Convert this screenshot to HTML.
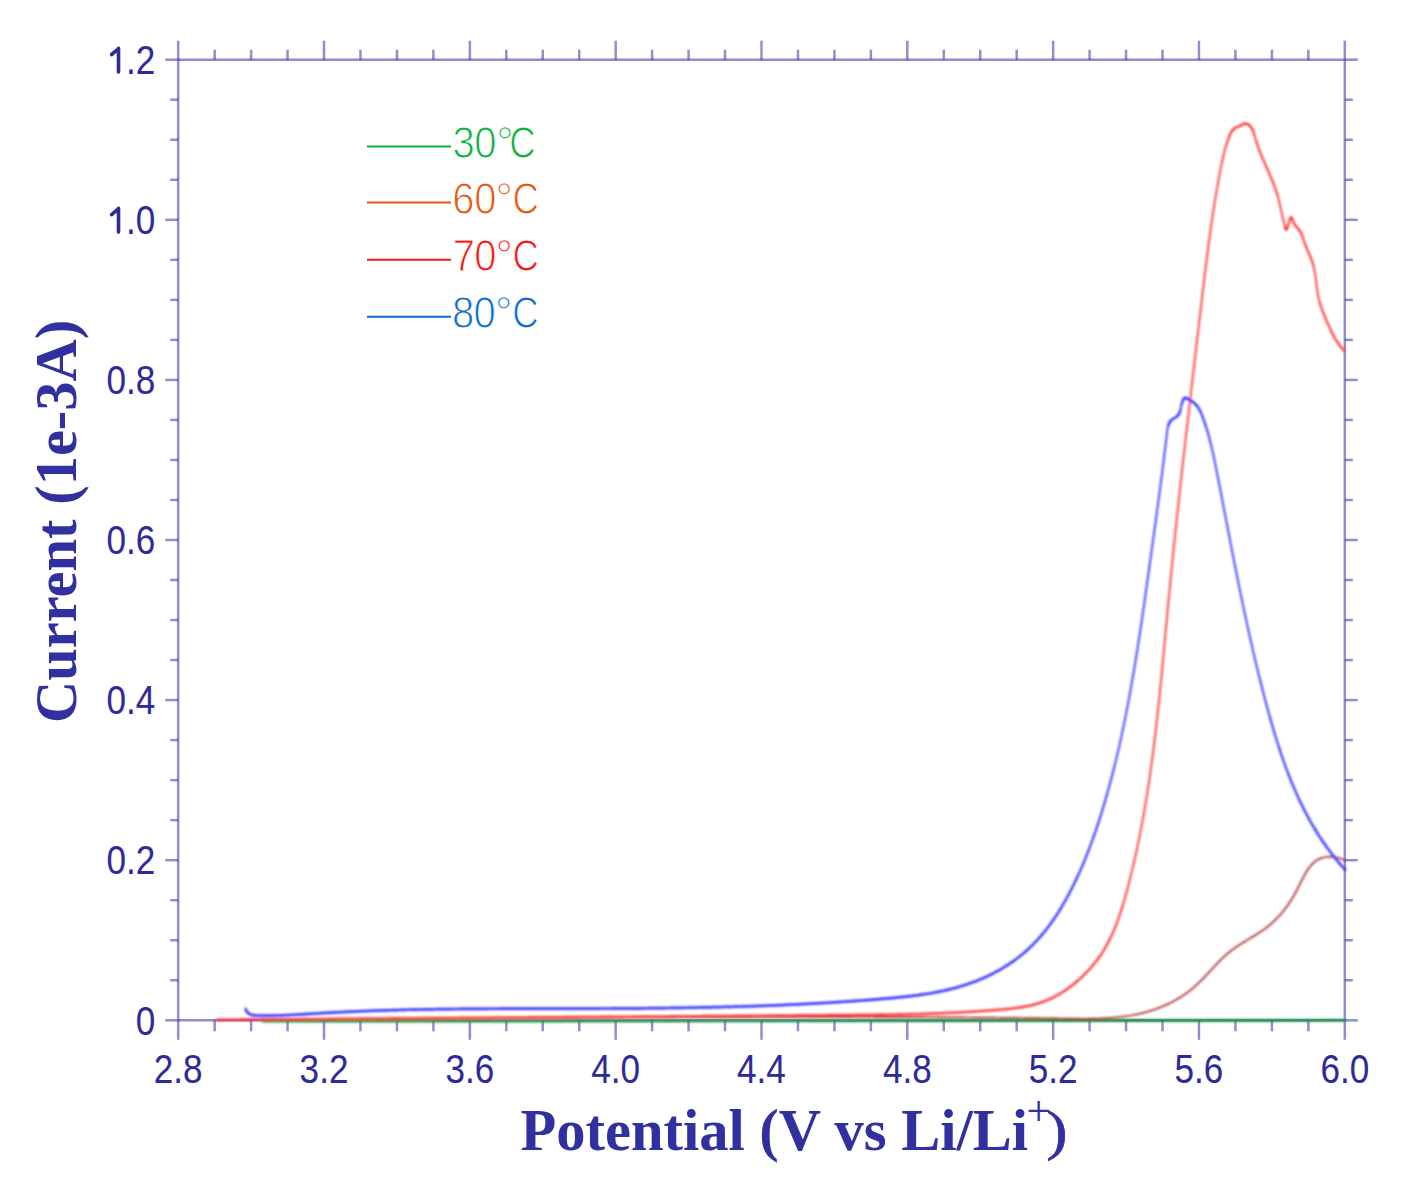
<!DOCTYPE html>
<html><head><meta charset="utf-8"><title>LSV</title>
<style>
html,body{margin:0;padding:0;background:#fff;}
svg{display:block}
.tl{font-family:"Liberation Sans",sans-serif;font-size:40px;fill:#2e2a9a;stroke:#2e2a9a;stroke-width:0.1px}
.ti{font-family:"Liberation Serif",serif;font-weight:bold;font-size:58.5px;fill:#3030a0}
.lg{font-family:"Liberation Sans",sans-serif;font-size:40px;stroke:#fff;stroke-width:1.2px}
</style></head>
<body>
<svg width="1405" height="1191" viewBox="0 0 1405 1191">
<defs><filter id="bla" x="-5%" y="-5%" width="110%" height="110%"><feGaussianBlur stdDeviation="0.45"/></filter><filter id="bl" x="-5%" y="-5%" width="110%" height="110%"><feGaussianBlur stdDeviation="0.85"/></filter></defs>
<rect width="1405" height="1191" fill="#fff"/>

<g filter="url(#bla)" stroke="#28249a" stroke-opacity="0.51" stroke-width="2.5" fill="none">
<path d="M178.20,1020.30L1344.80,1020.30"/>
<path d="M178.20,59.70L1344.80,59.70"/>
<path d="M178.20,1020.30L178.20,59.70"/>
<path d="M1344.80,1020.30L1344.80,59.70"/>
<path d="M178.20,1020.30L178.20,1039.80"/>
<path d="M178.20,59.70L178.20,40.70"/>
<path d="M214.66,1020.30L214.66,1031.30"/>
<path d="M214.66,59.70L214.66,49.70"/>
<path d="M251.11,1020.30L251.11,1031.30"/>
<path d="M251.11,59.70L251.11,49.70"/>
<path d="M287.57,1020.30L287.57,1031.30"/>
<path d="M287.57,59.70L287.57,49.70"/>
<path d="M324.02,1020.30L324.02,1039.80"/>
<path d="M324.02,59.70L324.02,40.70"/>
<path d="M360.48,1020.30L360.48,1031.30"/>
<path d="M360.48,59.70L360.48,49.70"/>
<path d="M396.94,1020.30L396.94,1031.30"/>
<path d="M396.94,59.70L396.94,49.70"/>
<path d="M433.39,1020.30L433.39,1031.30"/>
<path d="M433.39,59.70L433.39,49.70"/>
<path d="M469.85,1020.30L469.85,1039.80"/>
<path d="M469.85,59.70L469.85,40.70"/>
<path d="M506.31,1020.30L506.31,1031.30"/>
<path d="M506.31,59.70L506.31,49.70"/>
<path d="M542.76,1020.30L542.76,1031.30"/>
<path d="M542.76,59.70L542.76,49.70"/>
<path d="M579.22,1020.30L579.22,1031.30"/>
<path d="M579.22,59.70L579.22,49.70"/>
<path d="M615.67,1020.30L615.67,1039.80"/>
<path d="M615.67,59.70L615.67,40.70"/>
<path d="M652.13,1020.30L652.13,1031.30"/>
<path d="M652.13,59.70L652.13,49.70"/>
<path d="M688.59,1020.30L688.59,1031.30"/>
<path d="M688.59,59.70L688.59,49.70"/>
<path d="M725.04,1020.30L725.04,1031.30"/>
<path d="M725.04,59.70L725.04,49.70"/>
<path d="M761.50,1020.30L761.50,1039.80"/>
<path d="M761.50,59.70L761.50,40.70"/>
<path d="M797.96,1020.30L797.96,1031.30"/>
<path d="M797.96,59.70L797.96,49.70"/>
<path d="M834.41,1020.30L834.41,1031.30"/>
<path d="M834.41,59.70L834.41,49.70"/>
<path d="M870.87,1020.30L870.87,1031.30"/>
<path d="M870.87,59.70L870.87,49.70"/>
<path d="M907.32,1020.30L907.32,1039.80"/>
<path d="M907.32,59.70L907.32,40.70"/>
<path d="M943.78,1020.30L943.78,1031.30"/>
<path d="M943.78,59.70L943.78,49.70"/>
<path d="M980.24,1020.30L980.24,1031.30"/>
<path d="M980.24,59.70L980.24,49.70"/>
<path d="M1016.69,1020.30L1016.69,1031.30"/>
<path d="M1016.69,59.70L1016.69,49.70"/>
<path d="M1053.15,1020.30L1053.15,1039.80"/>
<path d="M1053.15,59.70L1053.15,40.70"/>
<path d="M1089.61,1020.30L1089.61,1031.30"/>
<path d="M1089.61,59.70L1089.61,49.70"/>
<path d="M1126.06,1020.30L1126.06,1031.30"/>
<path d="M1126.06,59.70L1126.06,49.70"/>
<path d="M1162.52,1020.30L1162.52,1031.30"/>
<path d="M1162.52,59.70L1162.52,49.70"/>
<path d="M1198.97,1020.30L1198.97,1039.80"/>
<path d="M1198.97,59.70L1198.97,40.70"/>
<path d="M1235.43,1020.30L1235.43,1031.30"/>
<path d="M1235.43,59.70L1235.43,49.70"/>
<path d="M1271.89,1020.30L1271.89,1031.30"/>
<path d="M1271.89,59.70L1271.89,49.70"/>
<path d="M1308.34,1020.30L1308.34,1031.30"/>
<path d="M1308.34,59.70L1308.34,49.70"/>
<path d="M1344.80,1020.30L1344.80,1039.80"/>
<path d="M1344.80,59.70L1344.80,40.70"/>
<path d="M165.20,1020.30L178.20,1020.30"/>
<path d="M1344.80,1020.30L1357.80,1020.30"/>
<path d="M170.20,980.27L178.20,980.27"/>
<path d="M1344.80,980.27L1352.80,980.27"/>
<path d="M170.20,940.25L178.20,940.25"/>
<path d="M1344.80,940.25L1352.80,940.25"/>
<path d="M170.20,900.22L178.20,900.22"/>
<path d="M1344.80,900.22L1352.80,900.22"/>
<path d="M165.20,860.20L178.20,860.20"/>
<path d="M1344.80,860.20L1357.80,860.20"/>
<path d="M170.20,820.17L178.20,820.17"/>
<path d="M1344.80,820.17L1352.80,820.17"/>
<path d="M170.20,780.15L178.20,780.15"/>
<path d="M1344.80,780.15L1352.80,780.15"/>
<path d="M170.20,740.12L178.20,740.12"/>
<path d="M1344.80,740.12L1352.80,740.12"/>
<path d="M165.20,700.10L178.20,700.10"/>
<path d="M1344.80,700.10L1357.80,700.10"/>
<path d="M170.20,660.07L178.20,660.07"/>
<path d="M1344.80,660.07L1352.80,660.07"/>
<path d="M170.20,620.05L178.20,620.05"/>
<path d="M1344.80,620.05L1352.80,620.05"/>
<path d="M170.20,580.02L178.20,580.02"/>
<path d="M1344.80,580.02L1352.80,580.02"/>
<path d="M165.20,540.00L178.20,540.00"/>
<path d="M1344.80,540.00L1357.80,540.00"/>
<path d="M170.20,499.97L178.20,499.97"/>
<path d="M1344.80,499.97L1352.80,499.97"/>
<path d="M170.20,459.95L178.20,459.95"/>
<path d="M1344.80,459.95L1352.80,459.95"/>
<path d="M170.20,419.92L178.20,419.92"/>
<path d="M1344.80,419.92L1352.80,419.92"/>
<path d="M165.20,379.90L178.20,379.90"/>
<path d="M1344.80,379.90L1357.80,379.90"/>
<path d="M170.20,339.87L178.20,339.87"/>
<path d="M1344.80,339.87L1352.80,339.87"/>
<path d="M170.20,299.85L178.20,299.85"/>
<path d="M1344.80,299.85L1352.80,299.85"/>
<path d="M170.20,259.82L178.20,259.82"/>
<path d="M1344.80,259.82L1352.80,259.82"/>
<path d="M165.20,219.80L178.20,219.80"/>
<path d="M1344.80,219.80L1357.80,219.80"/>
<path d="M170.20,179.77L178.20,179.77"/>
<path d="M1344.80,179.77L1352.80,179.77"/>
<path d="M170.20,139.75L178.20,139.75"/>
<path d="M1344.80,139.75L1352.80,139.75"/>
<path d="M170.20,99.72L178.20,99.72"/>
<path d="M1344.80,99.72L1352.80,99.72"/>
<path d="M165.20,59.70L178.20,59.70"/>
<path d="M1344.80,59.70L1357.80,59.70"/>
</g>
<text class="tl" transform="translate(155.2,1034.50) scale(0.878,1)" text-anchor="end">0</text>
<text class="tl" transform="translate(155.2,874.40) scale(0.878,1)" text-anchor="end">0.2</text>
<text class="tl" transform="translate(155.2,714.30) scale(0.878,1)" text-anchor="end">0.4</text>
<text class="tl" transform="translate(155.2,554.20) scale(0.878,1)" text-anchor="end">0.6</text>
<text class="tl" transform="translate(155.2,394.10) scale(0.878,1)" text-anchor="end">0.8</text>
<text class="tl" transform="translate(155.2,234.00) scale(0.878,1)" text-anchor="end">.0</text>
<text class="tl" transform="translate(155.2,73.90) scale(0.878,1)" text-anchor="end">.2</text>
<path d="M118.5,208.30L118.5,232.10M118.4,208.90L111.6,214.60 M118.5,48.20L118.5,72.00M118.4,48.80L111.6,54.50" stroke="#2e2a9a" stroke-width="3.6" stroke-linecap="round" fill="none"/>
<text class="tl" transform="translate(178.20,1083.2) scale(0.878,1)" text-anchor="middle">2.8</text>
<text class="tl" transform="translate(324.02,1083.2) scale(0.878,1)" text-anchor="middle">3.2</text>
<text class="tl" transform="translate(469.85,1083.2) scale(0.878,1)" text-anchor="middle">3.6</text>
<text class="tl" transform="translate(615.67,1083.2) scale(0.878,1)" text-anchor="middle">4.0</text>
<text class="tl" transform="translate(761.50,1083.2) scale(0.878,1)" text-anchor="middle">4.4</text>
<text class="tl" transform="translate(907.32,1083.2) scale(0.878,1)" text-anchor="middle">4.8</text>
<text class="tl" transform="translate(1053.15,1083.2) scale(0.878,1)" text-anchor="middle">5.2</text>
<text class="tl" transform="translate(1198.97,1083.2) scale(0.878,1)" text-anchor="middle">5.6</text>
<text class="tl" transform="translate(1344.80,1083.2) scale(0.878,1)" text-anchor="middle">6.0</text>
<text class="ti" transform="translate(76,521.4) rotate(-90)" text-anchor="middle">Current (1e-3A)</text>
<text class="ti" x="520.5" y="1149.9">Potential (V vs Li/Li</text>
<text class="ti" x="1026.4" y="1125.2" style="font-size:43px;font-weight:normal;stroke:#3030a0;stroke-width:0.15px">+</text>
<text class="ti" transform="translate(1046.6,1148.9) scale(1.12,1)" style="font-size:56px;font-weight:normal;stroke:#3030a0;stroke-width:0.8px">)</text>
<g filter="url(#bl)">
<path d="M263.00,1021.30L700.00,1021.00M700.00,1021.00L1344.60,1020.30" stroke="#1f9645" stroke-width="2.6" fill="none" stroke-linejoin="round" stroke-linecap="round"/>
<path d="M239.94,1019.23L241.45,1019.23M241.45,1019.23L242.95,1019.23M242.95,1019.23L244.45,1019.23M244.45,1019.23L245.96,1019.23M245.96,1019.23L247.46,1019.23M247.46,1019.23L248.96,1019.22M248.96,1019.22L250.47,1019.22M250.47,1019.22L251.97,1019.22M251.97,1019.22L253.48,1019.22M253.48,1019.22L254.98,1019.22M254.98,1019.22L256.48,1019.22M256.48,1019.22L257.99,1019.22M257.99,1019.22L259.49,1019.22M259.49,1019.22L260.99,1019.22M260.99,1019.22L262.50,1019.21M262.50,1019.21L264.00,1019.21M264.00,1019.21L265.50,1019.21M265.50,1019.21L267.01,1019.21M267.01,1019.21L268.51,1019.21M268.51,1019.21L270.01,1019.21M270.01,1019.21L271.51,1019.20M271.51,1019.20L273.02,1019.20M273.02,1019.20L274.52,1019.20M274.52,1019.20L276.02,1019.20M276.02,1019.20L277.52,1019.19M277.52,1019.19L279.03,1019.19M279.03,1019.19L280.53,1019.19M280.53,1019.19L282.03,1019.19M282.03,1019.19L283.54,1019.18M283.54,1019.18L285.04,1019.18M285.04,1019.18L286.54,1019.18M286.54,1019.18L288.04,1019.18M288.04,1019.18L289.54,1019.17M289.54,1019.17L291.05,1019.17M291.05,1019.17L292.55,1019.17M292.55,1019.17L294.05,1019.16M294.05,1019.16L295.55,1019.16M295.55,1019.16L297.06,1019.16M297.06,1019.16L298.56,1019.15M298.56,1019.15L300.06,1019.15M300.06,1019.15L301.56,1019.15M301.56,1019.15L303.06,1019.14M303.06,1019.14L304.56,1019.14M304.56,1019.14L306.07,1019.14M306.07,1019.14L307.57,1019.13M307.57,1019.13L309.07,1019.13M309.07,1019.13L310.57,1019.12M310.57,1019.12L312.07,1019.12M312.07,1019.12L313.57,1019.12M313.57,1019.12L315.08,1019.11M315.08,1019.11L316.58,1019.11M316.58,1019.11L318.08,1019.10M318.08,1019.10L319.58,1019.10M319.58,1019.10L321.08,1019.09M321.08,1019.09L322.58,1019.09M322.58,1019.09L324.08,1019.09M324.08,1019.09L325.59,1019.08M325.59,1019.08L327.09,1019.08M327.09,1019.08L328.59,1019.07M328.59,1019.07L330.09,1019.07M330.09,1019.07L331.59,1019.06M331.59,1019.06L333.09,1019.06M333.09,1019.06L334.59,1019.05M334.59,1019.05L336.09,1019.05M336.09,1019.05L337.59,1019.04M337.59,1019.04L339.09,1019.04M339.09,1019.04L340.59,1019.03M340.59,1019.03L342.09,1019.03M342.09,1019.03L343.60,1019.02M343.60,1019.02L345.10,1019.02M345.10,1019.02L346.60,1019.01M346.60,1019.01L348.10,1019.00M348.10,1019.00L349.60,1019.00M349.60,1019.00L351.10,1018.99M351.10,1018.99L352.60,1018.99M352.60,1018.99L354.10,1018.98M354.10,1018.98L355.60,1018.98M355.60,1018.98L357.10,1018.97M357.10,1018.97L358.60,1018.96M358.60,1018.96L360.10,1018.96M360.10,1018.96L361.60,1018.95M361.60,1018.95L363.10,1018.95M363.10,1018.95L364.60,1018.94M364.60,1018.94L366.10,1018.93M366.10,1018.93L367.60,1018.93M367.60,1018.93L369.10,1018.92M369.10,1018.92L370.60,1018.92M370.60,1018.92L372.10,1018.91M372.10,1018.91L373.60,1018.90M373.60,1018.90L375.10,1018.90M375.10,1018.90L376.60,1018.89M376.60,1018.89L378.10,1018.88M378.10,1018.88L379.60,1018.88M379.60,1018.88L381.10,1018.87M381.10,1018.87L382.60,1018.86M382.60,1018.86L384.10,1018.86M384.10,1018.86L385.60,1018.85M385.60,1018.85L387.10,1018.84M387.10,1018.84L388.60,1018.84M388.60,1018.84L390.10,1018.83M390.10,1018.83L391.60,1018.82M391.60,1018.82L393.10,1018.82M393.10,1018.82L394.59,1018.81M394.59,1018.81L396.09,1018.80M396.09,1018.80L397.59,1018.79M397.59,1018.79L399.09,1018.79M399.09,1018.79L400.59,1018.78M400.59,1018.78L402.09,1018.77M402.09,1018.77L403.59,1018.77M403.59,1018.77L405.09,1018.76M405.09,1018.76L406.59,1018.75M406.59,1018.75L408.09,1018.74M408.09,1018.74L409.59,1018.74M409.59,1018.74L411.09,1018.73M411.09,1018.73L412.58,1018.72M412.58,1018.72L414.08,1018.71M414.08,1018.71L415.58,1018.71M415.58,1018.71L417.08,1018.70M417.08,1018.70L418.58,1018.69M418.58,1018.69L420.08,1018.68M420.08,1018.68L421.58,1018.68M421.58,1018.68L423.08,1018.67M423.08,1018.67L424.58,1018.66M424.58,1018.66L426.07,1018.65M426.07,1018.65L427.57,1018.64M427.57,1018.64L429.07,1018.64M429.07,1018.64L430.57,1018.63M430.57,1018.63L432.07,1018.62M432.07,1018.62L433.57,1018.61M433.57,1018.61L435.07,1018.61M435.07,1018.61L436.56,1018.60M436.56,1018.60L438.06,1018.59M438.06,1018.59L439.56,1018.58M439.56,1018.58L441.06,1018.57M441.06,1018.57L442.56,1018.57M442.56,1018.57L444.06,1018.56M444.06,1018.56L445.56,1018.55M445.56,1018.55L447.05,1018.54M447.05,1018.54L448.55,1018.53M448.55,1018.53L450.05,1018.52M450.05,1018.52L451.55,1018.52M451.55,1018.52L453.05,1018.51M453.05,1018.51L454.55,1018.50M454.55,1018.50L456.04,1018.49M456.04,1018.49L457.54,1018.48M457.54,1018.48L459.04,1018.47M459.04,1018.47L460.54,1018.47M460.54,1018.47L462.04,1018.46M462.04,1018.46L463.53,1018.45M463.53,1018.45L465.03,1018.44M465.03,1018.44L466.53,1018.43M466.53,1018.43L468.03,1018.42M468.03,1018.42L469.53,1018.42M469.53,1018.42L471.02,1018.41M471.02,1018.41L472.52,1018.40M472.52,1018.40L474.02,1018.39M474.02,1018.39L475.52,1018.38M475.52,1018.38L477.02,1018.37M477.02,1018.37L478.51,1018.36M478.51,1018.36L480.01,1018.36M480.01,1018.36L481.51,1018.35M481.51,1018.35L483.01,1018.34M483.01,1018.34L484.51,1018.33M484.51,1018.33L486.00,1018.32M486.00,1018.32L487.50,1018.31M487.50,1018.31L489.00,1018.30M489.00,1018.30L490.50,1018.30M490.50,1018.30L491.99,1018.29M491.99,1018.29L493.49,1018.28M493.49,1018.28L494.99,1018.27M494.99,1018.27L496.49,1018.26M496.49,1018.26L497.99,1018.25M497.99,1018.25L499.48,1018.24M499.48,1018.24L500.98,1018.23M500.98,1018.23L502.48,1018.23M502.48,1018.23L503.98,1018.22M503.98,1018.22L505.47,1018.21M505.47,1018.21L506.97,1018.20M506.97,1018.20L508.47,1018.19M508.47,1018.19L509.97,1018.18M509.97,1018.18L511.46,1018.17M511.46,1018.17L512.96,1018.16M512.96,1018.16L514.46,1018.15M514.46,1018.15L515.96,1018.15M515.96,1018.15L517.45,1018.14M517.45,1018.14L518.95,1018.13M518.95,1018.13L520.45,1018.12M520.45,1018.12L521.95,1018.11M521.95,1018.11L523.44,1018.10M523.44,1018.10L524.94,1018.09M524.94,1018.09L526.44,1018.08M526.44,1018.08L527.94,1018.08M527.94,1018.08L529.43,1018.07M529.43,1018.07L530.93,1018.06M530.93,1018.06L532.43,1018.05M532.43,1018.05L533.92,1018.04M533.92,1018.04L535.42,1018.03M535.42,1018.03L536.92,1018.02M536.92,1018.02L538.42,1018.01M538.42,1018.01L539.91,1018.00M539.91,1018.00L541.41,1018.00M541.41,1018.00L542.91,1017.99M542.91,1017.99L544.41,1017.98M544.41,1017.98L545.90,1017.97M545.90,1017.97L547.40,1017.96M547.40,1017.96L548.90,1017.95M548.90,1017.95L550.39,1017.94M550.39,1017.94L551.89,1017.93M551.89,1017.93L553.39,1017.93M553.39,1017.93L554.89,1017.92M554.89,1017.92L556.38,1017.91M556.38,1017.91L557.88,1017.90M557.88,1017.90L559.38,1017.89M559.38,1017.89L560.87,1017.88M560.87,1017.88L562.37,1017.87M562.37,1017.87L563.87,1017.86M563.87,1017.86L565.37,1017.86M565.37,1017.86L566.86,1017.85M566.86,1017.85L568.36,1017.84M568.36,1017.84L569.86,1017.83M569.86,1017.83L571.35,1017.82M571.35,1017.82L572.85,1017.81M572.85,1017.81L574.35,1017.80M574.35,1017.80L575.85,1017.80M575.85,1017.80L577.34,1017.79M577.34,1017.79L578.84,1017.78M578.84,1017.78L580.34,1017.77M580.34,1017.77L581.83,1017.76M581.83,1017.76L583.33,1017.75M583.33,1017.75L584.83,1017.74M584.83,1017.74L586.32,1017.74M586.32,1017.74L587.82,1017.73M587.82,1017.73L589.32,1017.72M589.32,1017.72L590.82,1017.71M590.82,1017.71L592.31,1017.70M592.31,1017.70L593.81,1017.69M593.81,1017.69L595.31,1017.69M595.31,1017.69L596.80,1017.68M596.80,1017.68L598.30,1017.67M598.30,1017.67L599.80,1017.66M599.80,1017.66L601.30,1017.65M601.30,1017.65L602.79,1017.64M602.79,1017.64L604.29,1017.64M604.29,1017.64L605.79,1017.63M605.79,1017.63L607.28,1017.62M607.28,1017.62L608.78,1017.61M608.78,1017.61L610.28,1017.60M610.28,1017.60L611.77,1017.60M611.77,1017.60L613.27,1017.59M613.27,1017.59L614.77,1017.58M614.77,1017.58L616.27,1017.57M616.27,1017.57L617.76,1017.56M617.76,1017.56L619.26,1017.56M619.26,1017.56L620.76,1017.55M620.76,1017.55L622.25,1017.54M622.25,1017.54L623.75,1017.53M623.75,1017.53L625.25,1017.52M625.25,1017.52L626.75,1017.52M626.75,1017.52L628.24,1017.51M628.24,1017.51L629.74,1017.50M629.74,1017.50L631.24,1017.49M631.24,1017.49L632.73,1017.49M632.73,1017.49L634.23,1017.48M634.23,1017.48L635.73,1017.47M635.73,1017.47L637.22,1017.46M637.22,1017.46L638.72,1017.46M638.72,1017.46L640.22,1017.45M640.22,1017.45L641.72,1017.44M641.72,1017.44L643.21,1017.43M643.21,1017.43L644.71,1017.43M644.71,1017.43L646.21,1017.42M646.21,1017.42L647.70,1017.41M647.70,1017.41L649.20,1017.40M649.20,1017.40L650.70,1017.40M650.70,1017.40L652.20,1017.39M652.20,1017.39L653.69,1017.38M653.69,1017.38L655.19,1017.38M655.19,1017.38L656.69,1017.37M656.69,1017.37L658.18,1017.36M658.18,1017.36L659.68,1017.35M659.68,1017.35L661.18,1017.35M661.18,1017.35L662.68,1017.34M662.68,1017.34L664.17,1017.33M664.17,1017.33L665.67,1017.33M665.67,1017.33L667.17,1017.32M667.17,1017.32L668.66,1017.31M668.66,1017.31L670.16,1017.31M670.16,1017.31L671.66,1017.30M671.66,1017.30L673.16,1017.29M673.16,1017.29L674.65,1017.29M674.65,1017.29L676.15,1017.28M676.15,1017.28L677.65,1017.27M677.65,1017.27L679.15,1017.27M679.15,1017.27L680.64,1017.26M680.64,1017.26L682.14,1017.26M682.14,1017.26L683.64,1017.25M683.64,1017.25L685.14,1017.24M685.14,1017.24L686.63,1017.24M686.63,1017.24L688.13,1017.23M688.13,1017.23L689.63,1017.22M689.63,1017.22L691.12,1017.22M691.12,1017.22L692.62,1017.21M692.62,1017.21L694.12,1017.21M694.12,1017.21L695.62,1017.20M695.62,1017.20L697.11,1017.20M697.11,1017.20L698.61,1017.19M698.61,1017.19L700.11,1017.18M700.11,1017.18L701.61,1017.18M701.61,1017.18L703.10,1017.17M703.10,1017.17L704.60,1017.17M704.60,1017.17L706.10,1017.16M706.10,1017.16L707.60,1017.16M707.60,1017.16L709.09,1017.15M709.09,1017.15L710.59,1017.15M710.59,1017.15L712.09,1017.14M712.09,1017.14L713.59,1017.14M713.59,1017.14L715.09,1017.13M715.09,1017.13L716.58,1017.13M716.58,1017.13L718.08,1017.12M718.08,1017.12L719.58,1017.12M719.58,1017.12L721.08,1017.11M721.08,1017.11L722.57,1017.11M722.57,1017.11L724.07,1017.10M724.07,1017.10L725.57,1017.10M725.57,1017.10L727.07,1017.09M727.07,1017.09L728.57,1017.09M728.57,1017.09L730.06,1017.08M730.06,1017.08L731.56,1017.08M731.56,1017.08L733.06,1017.07M733.06,1017.07L734.56,1017.07M734.56,1017.07L736.05,1017.07M736.05,1017.07L737.55,1017.06M737.55,1017.06L739.05,1017.06M739.05,1017.06L740.55,1017.05M740.55,1017.05L742.05,1017.05M742.05,1017.05L743.54,1017.05M743.54,1017.05L745.04,1017.04M745.04,1017.04L746.54,1017.04M746.54,1017.04L748.04,1017.03M748.04,1017.03L749.54,1017.03M749.54,1017.03L751.03,1017.03M751.03,1017.03L752.53,1017.02M752.53,1017.02L754.03,1017.02M754.03,1017.02L755.53,1017.02M755.53,1017.02L757.03,1017.01M757.03,1017.01L758.53,1017.01M758.53,1017.01L760.02,1017.01M760.02,1017.01L761.52,1017.00M761.52,1017.00L763.02,1017.00M763.02,1017.00L764.52,1017.00M764.52,1017.00L766.02,1017.00M766.02,1017.00L767.52,1016.99M767.52,1016.99L769.01,1016.99M769.01,1016.99L770.51,1016.99M770.51,1016.99L772.01,1016.99M772.01,1016.99L773.51,1016.98M773.51,1016.98L775.01,1016.98M775.01,1016.98L776.51,1016.98M776.51,1016.98L778.01,1016.98M778.01,1016.98L779.50,1016.97M779.50,1016.97L781.00,1016.97M781.00,1016.97L782.50,1016.97M782.50,1016.97L784.00,1016.97M784.00,1016.97L785.50,1016.97M785.50,1016.97L787.00,1016.96M787.00,1016.96L788.50,1016.96M788.50,1016.96L789.99,1016.96M789.99,1016.96L791.49,1016.96M791.49,1016.96L792.99,1016.96M792.99,1016.96L794.49,1016.96M794.49,1016.96L795.99,1016.96M795.99,1016.96L797.49,1016.96M797.49,1016.96L798.99,1016.95M798.99,1016.95L800.49,1016.95M800.49,1016.95L801.99,1016.95M801.99,1016.95L803.49,1016.95M803.49,1016.95L804.98,1016.95M804.98,1016.95L806.48,1016.95M806.48,1016.95L807.98,1016.95M807.98,1016.95L809.48,1016.95M809.48,1016.95L810.98,1016.95M810.98,1016.95L812.48,1016.95M812.48,1016.95L813.98,1016.95M813.98,1016.95L815.48,1016.95M815.48,1016.95L816.98,1016.95M816.98,1016.95L818.48,1016.95M818.48,1016.95L819.98,1016.95M819.98,1016.95L821.48,1016.95M821.48,1016.95L822.98,1016.95M822.98,1016.95L824.48,1016.95M824.48,1016.95L825.97,1016.95M825.97,1016.95L827.47,1016.95M827.47,1016.95L828.97,1016.95M828.97,1016.95L830.47,1016.95M830.47,1016.95L831.97,1016.95M831.97,1016.95L833.47,1016.96M833.47,1016.96L834.97,1016.96M834.97,1016.96L836.47,1016.96M836.47,1016.96L837.97,1016.96M837.97,1016.96L839.47,1016.96M839.47,1016.96L840.97,1016.96M840.97,1016.96L842.47,1016.96M842.47,1016.96L843.97,1016.97M843.97,1016.97L845.47,1016.97M845.47,1016.97L846.97,1016.97M846.97,1016.97L848.47,1016.97M848.47,1016.97L849.97,1016.97M849.97,1016.97L851.47,1016.98M851.47,1016.98L852.97,1016.98M852.97,1016.98L854.47,1016.98M854.47,1016.98L855.97,1016.98M855.97,1016.98L857.47,1016.99M857.47,1016.99L858.97,1016.99M858.97,1016.99L860.47,1016.99M860.47,1016.99L861.98,1016.99M861.98,1016.99L863.48,1017.00M863.48,1017.00L864.98,1017.00M864.98,1017.00L866.48,1017.00M866.48,1017.00L867.98,1017.01M867.98,1017.01L869.48,1017.01M869.48,1017.01L870.98,1017.01M870.98,1017.01L872.48,1017.02M872.48,1017.02L873.98,1017.02M873.98,1017.02L875.48,1017.03M875.48,1017.03L876.98,1017.03M876.98,1017.03L878.48,1017.03M878.48,1017.03L879.98,1017.04M879.98,1017.04L881.48,1017.04M881.48,1017.04L882.99,1017.05M882.99,1017.05L884.49,1017.05M884.49,1017.05L885.99,1017.06M885.99,1017.06L887.49,1017.06M887.49,1017.06L888.99,1017.07M888.99,1017.07L890.49,1017.07M890.49,1017.07L891.99,1017.08M891.99,1017.08L893.49,1017.08M893.49,1017.08L895.00,1017.09M895.00,1017.09L896.50,1017.09M896.50,1017.09L898.00,1017.10M898.00,1017.10L899.50,1017.10M899.50,1017.10L901.00,1017.11M901.00,1017.11L902.50,1017.12M902.50,1017.12L904.00,1017.12M904.00,1017.12L905.51,1017.13M905.51,1017.13L907.01,1017.14M907.01,1017.14L908.51,1017.14M908.51,1017.14L910.01,1017.15M910.01,1017.15L911.51,1017.16M911.51,1017.16L913.02,1017.16M913.02,1017.16L914.52,1017.17M914.52,1017.17L916.02,1017.18M916.02,1017.18L917.52,1017.18M917.52,1017.18L919.02,1017.19M919.02,1017.19L920.53,1017.20M920.53,1017.20L922.03,1017.21M922.03,1017.21L923.53,1017.21M923.53,1017.21L925.03,1017.22M925.03,1017.22L926.54,1017.23M926.54,1017.23L928.04,1017.24M928.04,1017.24L929.54,1017.25M929.54,1017.25L931.04,1017.25M931.04,1017.25L932.55,1017.26M932.55,1017.26L934.05,1017.27M934.05,1017.27L935.55,1017.28M935.55,1017.28L937.05,1017.29M937.05,1017.29L938.56,1017.30M938.56,1017.30L940.06,1017.31M940.06,1017.31L941.56,1017.32M941.56,1017.32L943.06,1017.33M943.06,1017.33L944.57,1017.33M944.57,1017.33L946.07,1017.34M946.07,1017.34L947.57,1017.35M947.57,1017.35L949.08,1017.36M949.08,1017.36L950.58,1017.37M950.58,1017.37L952.08,1017.38M952.08,1017.38L953.59,1017.39M953.59,1017.39L955.09,1017.40M955.09,1017.40L956.59,1017.42M956.59,1017.42L958.10,1017.43M958.10,1017.43L959.60,1017.44M959.60,1017.44L961.10,1017.45M961.10,1017.45L962.61,1017.46M962.61,1017.46L964.11,1017.47M964.11,1017.47L965.62,1017.48M965.62,1017.48L967.12,1017.49M967.12,1017.49L968.62,1017.50M968.62,1017.50L970.13,1017.52M970.13,1017.52L971.63,1017.53M971.63,1017.53L973.14,1017.54M973.14,1017.54L974.64,1017.55M974.64,1017.55L976.14,1017.57M976.14,1017.57L977.65,1017.58M977.65,1017.58L979.15,1017.59M979.15,1017.59L980.66,1017.60M980.66,1017.60L982.16,1017.62M982.16,1017.62L983.67,1017.63M983.67,1017.63L985.17,1017.64M985.17,1017.64L986.67,1017.66M986.67,1017.66L988.18,1017.67M988.18,1017.67L989.68,1017.68M989.68,1017.68L991.19,1017.70M991.19,1017.70L992.69,1017.71M992.69,1017.71L994.20,1017.72M994.20,1017.72L995.70,1017.74M995.70,1017.74L997.21,1017.75M997.21,1017.75L998.71,1017.77M998.71,1017.77L1000.22,1017.78M1000.22,1017.78L1001.72,1017.80M1001.72,1017.80L1003.23,1017.81M1003.23,1017.81L1004.73,1017.83M1004.73,1017.83L1006.24,1017.84M1006.24,1017.84L1007.74,1017.86M1007.74,1017.86L1009.25,1017.87M1009.25,1017.87L1010.76,1017.89M1010.76,1017.89L1012.26,1017.91M1012.26,1017.91L1013.77,1017.92M1013.77,1017.92L1015.27,1017.94M1015.27,1017.94L1016.78,1017.95M1016.78,1017.95L1018.28,1017.97M1018.28,1017.97L1019.79,1017.99M1019.79,1017.99L1021.30,1018.00M1021.30,1018.00L1022.80,1018.02M1022.80,1018.02L1024.31,1018.04M1024.31,1018.04L1025.81,1018.06M1025.81,1018.06L1027.32,1018.07M1027.32,1018.07L1028.83,1018.09M1028.83,1018.09L1030.33,1018.11M1030.33,1018.11L1031.84,1018.13M1031.84,1018.13L1033.35,1018.14M1033.35,1018.14L1034.85,1018.16M1034.85,1018.16L1036.36,1018.18M1036.36,1018.18L1037.87,1018.20M1037.87,1018.20L1039.37,1018.22M1039.37,1018.22L1040.88,1018.24M1040.88,1018.24L1042.39,1018.26M1042.39,1018.26L1043.89,1018.28M1043.89,1018.28L1045.40,1018.29M1045.40,1018.29L1046.91,1018.31M1046.91,1018.31L1048.42,1018.33M1048.42,1018.33L1049.92,1018.35M1049.92,1018.35L1051.43,1018.37M1051.43,1018.37L1052.94,1018.39M1052.94,1018.39L1054.45,1018.41M1054.45,1018.41L1055.95,1018.44M1055.95,1018.44L1057.46,1018.46M1057.46,1018.46L1058.97,1018.48M1058.97,1018.48L1060.48,1018.50M1060.48,1018.50L1061.98,1018.52M1061.98,1018.52L1063.49,1018.54M1063.49,1018.54L1065.00,1018.56M1065.00,1018.56L1066.51,1018.58M1066.51,1018.58L1068.02,1018.60M1068.02,1018.60L1069.52,1018.62M1069.52,1018.62L1071.03,1018.64M1071.03,1018.64L1072.54,1018.66M1072.54,1018.66L1074.05,1018.68M1074.05,1018.68L1075.55,1018.70M1075.55,1018.70L1077.06,1018.71M1077.06,1018.71L1078.57,1018.72M1078.57,1018.72L1080.07,1018.73M1080.07,1018.73L1081.58,1018.74M1081.58,1018.74L1083.08,1018.74M1083.08,1018.74L1084.59,1018.74M1084.59,1018.74L1086.09,1018.73M1086.09,1018.73L1087.60,1018.72M1087.60,1018.72L1089.10,1018.71M1089.10,1018.71L1090.60,1018.70M1090.60,1018.70L1092.10,1018.67M1092.10,1018.67L1093.60,1018.65M1093.60,1018.65L1095.10,1018.61M1095.10,1018.61L1096.60,1018.58M1096.60,1018.58L1098.10,1018.53M1098.10,1018.53L1099.59,1018.48M1099.59,1018.48L1101.09,1018.43M1101.09,1018.43L1102.58,1018.36M1102.58,1018.36L1104.07,1018.29M1104.07,1018.29L1105.57,1018.22M1105.57,1018.22L1107.06,1018.13M1107.06,1018.13L1108.55,1018.04M1108.55,1018.04L1110.03,1017.94M1110.03,1017.94L1111.52,1017.83M1111.52,1017.83L1113.00,1017.71M1113.00,1017.71L1114.49,1017.58M1114.49,1017.58L1115.97,1017.45M1115.97,1017.45L1117.45,1017.30M1117.45,1017.30L1118.93,1017.15M1118.93,1017.15L1120.40,1016.98M1120.40,1016.98L1121.88,1016.80M1121.88,1016.80L1123.35,1016.62M1123.35,1016.62L1124.82,1016.42M1124.82,1016.42L1126.29,1016.21M1126.29,1016.21L1127.75,1015.99M1127.75,1015.99L1129.22,1015.76M1129.22,1015.76L1130.68,1015.51M1130.68,1015.51L1132.14,1015.26M1132.14,1015.26L1133.60,1014.99M1133.60,1014.99L1135.06,1014.70M1135.06,1014.70L1136.51,1014.41M1136.51,1014.41L1137.96,1014.10M1137.96,1014.10L1139.41,1013.78M1139.41,1013.78L1140.86,1013.44M1140.86,1013.44L1142.30,1013.09M1142.30,1013.09L1143.74,1012.72M1143.74,1012.72L1145.18,1012.34M1145.18,1012.34L1146.62,1011.95M1146.62,1011.95L1148.05,1011.54M1148.05,1011.54L1149.48,1011.11M1149.48,1011.11L1150.91,1010.67M1150.91,1010.67L1152.33,1010.21M1152.33,1010.21L1153.75,1009.74M1153.75,1009.74L1155.17,1009.25M1155.17,1009.25L1156.58,1008.74M1156.58,1008.74L1157.99,1008.22M1157.99,1008.22L1159.39,1007.69M1159.39,1007.69L1160.78,1007.13M1160.78,1007.13L1162.17,1006.57M1162.17,1006.57L1163.56,1005.98M1163.56,1005.98L1164.94,1005.38M1164.94,1005.38L1166.31,1004.77M1166.31,1004.77L1167.67,1004.14M1167.67,1004.14L1169.03,1003.49M1169.03,1003.49L1170.37,1002.82M1170.37,1002.82L1171.71,1002.14M1171.71,1002.14L1173.05,1001.45M1173.05,1001.45L1174.37,1000.74M1174.37,1000.74L1175.68,1000.01M1175.68,1000.01L1176.99,999.27M1176.99,999.27L1178.28,998.51M1178.28,998.51L1179.57,997.73M1179.57,997.73L1180.84,996.94M1180.84,996.94L1182.10,996.13M1182.10,996.13L1183.36,995.31M1183.36,995.31L1184.60,994.46M1184.60,994.46L1185.83,993.61M1185.83,993.61L1187.05,992.73M1187.05,992.73L1188.25,991.84M1188.25,991.84L1189.44,990.94M1189.44,990.94L1190.62,990.02M1190.62,990.02L1191.79,989.08M1191.79,989.08L1192.94,988.12M1192.94,988.12L1194.08,987.15M1194.08,987.15L1195.20,986.16M1195.20,986.16L1196.31,985.16M1196.31,985.16L1197.41,984.14M1197.41,984.14L1198.50,983.11M1198.50,983.11L1199.58,982.07M1199.58,982.07L1200.65,981.02M1200.65,981.02L1201.70,979.95M1201.70,979.95L1202.76,978.88M1202.76,978.88L1203.80,977.80M1203.80,977.80L1204.84,976.71M1204.84,976.71L1205.87,975.62M1205.87,975.62L1206.90,974.52M1206.90,974.52L1207.93,973.42M1207.93,973.42L1208.95,972.32M1208.95,972.32L1209.97,971.21M1209.97,971.21L1211.00,970.10M1211.00,970.10L1212.02,969.00M1212.02,969.00L1213.04,967.89M1213.04,967.89L1214.07,966.79M1214.07,966.79L1215.10,965.69M1215.10,965.69L1216.13,964.60M1216.13,964.60L1217.17,963.51M1217.17,963.51L1218.21,962.43M1218.21,962.43L1219.26,961.36M1219.26,961.36L1220.32,960.29M1220.32,960.29L1221.39,959.24M1221.39,959.24L1222.47,958.20M1222.47,958.20L1223.55,957.17M1223.55,957.17L1224.65,956.15M1224.65,956.15L1225.76,955.14M1225.76,955.14L1226.89,954.15M1226.89,954.15L1228.03,953.18M1228.03,953.18L1229.18,952.23M1229.18,952.23L1230.35,951.29M1230.35,951.29L1231.53,950.37M1231.53,950.37L1232.73,949.47M1232.73,949.47L1233.95,948.59M1233.95,948.59L1235.18,947.72M1235.18,947.72L1236.42,946.86M1236.42,946.86L1237.67,946.02M1237.67,946.02L1238.93,945.19M1238.93,945.19L1240.20,944.37M1240.20,944.37L1241.48,943.56M1241.48,943.56L1242.76,942.76M1242.76,942.76L1244.05,941.97M1244.05,941.97L1245.34,941.18M1245.34,941.18L1246.63,940.39M1246.63,940.39L1247.93,939.61M1247.93,939.61L1249.23,938.83M1249.23,938.83L1250.52,938.05M1250.52,938.05L1251.82,937.27M1251.82,937.27L1253.11,936.49M1253.11,936.49L1254.39,935.70M1254.39,935.70L1255.67,934.91M1255.67,934.91L1256.95,934.11M1256.95,934.11L1258.21,933.31M1258.21,933.31L1259.47,932.49M1259.47,932.49L1260.71,931.67M1260.71,931.67L1261.95,930.84M1261.95,930.84L1263.17,930.00M1263.17,930.00L1264.38,929.14M1264.38,929.14L1265.57,928.26M1265.57,928.26L1266.75,927.38M1266.75,927.38L1267.91,926.47M1267.91,926.47L1269.06,925.55M1269.06,925.55L1270.19,924.61M1270.19,924.61L1271.30,923.65M1271.30,923.65L1272.39,922.68M1272.39,922.68L1273.47,921.70M1273.47,921.70L1274.53,920.69M1274.53,920.69L1275.58,919.67M1275.58,919.67L1276.61,918.64M1276.61,918.64L1277.63,917.58M1277.63,917.58L1278.63,916.52M1278.63,916.52L1279.62,915.43M1279.62,915.43L1280.60,914.33M1280.60,914.33L1281.55,913.22M1281.55,913.22L1282.50,912.09M1282.50,912.09L1283.43,910.94M1283.43,910.94L1284.35,909.78M1284.35,909.78L1285.25,908.60M1285.25,908.60L1286.14,907.41M1286.14,907.41L1287.02,906.21M1287.02,906.21L1287.88,904.99M1287.88,904.99L1288.73,903.75M1288.73,903.75L1289.57,902.50M1289.57,902.50L1290.40,901.23M1290.40,901.23L1291.21,899.95M1291.21,899.95L1292.02,898.66M1292.02,898.66L1292.81,897.35M1292.81,897.35L1293.59,896.03M1293.59,896.03L1294.36,894.69M1294.36,894.69L1295.11,893.34M1295.11,893.34L1295.86,891.98M1295.86,891.98L1296.59,890.60M1296.59,890.60L1297.32,889.21M1297.32,889.21L1298.04,887.80M1298.04,887.80L1298.74,886.39M1298.74,886.39L1299.45,884.97M1299.45,884.97L1300.15,883.56M1300.15,883.56L1300.85,882.14M1300.85,882.14L1301.56,880.73M1301.56,880.73L1302.27,879.33M1302.27,879.33L1302.98,877.93M1302.98,877.93L1303.70,876.56M1303.70,876.56L1304.44,875.20M1304.44,875.20L1305.19,873.87M1305.19,873.87L1305.95,872.56M1305.95,872.56L1306.73,871.28M1306.73,871.28L1307.53,870.04M1307.53,870.04L1308.35,868.82M1308.35,868.82L1309.20,867.65M1309.20,867.65L1310.07,866.52M1310.07,866.52L1310.97,865.44M1310.97,865.44L1311.91,864.41M1311.91,864.41L1312.87,863.43M1312.87,863.43L1313.88,862.50M1313.88,862.50L1314.91,861.64M1314.91,861.64L1315.99,860.83M1315.99,860.83L1317.12,860.10M1317.12,860.10L1318.28,859.43M1318.28,859.43L1319.49,858.84M1319.49,858.84L1320.75,858.32M1320.75,858.32L1322.06,857.88M1322.06,857.88L1323.40,857.51M1323.40,857.51L1324.78,857.22M1324.78,857.22L1326.20,857.01M1326.20,857.01L1327.65,856.87M1327.65,856.87L1329.13,856.80M1329.13,856.80L1330.64,856.81M1330.64,856.81L1332.17,856.90M1332.17,856.90L1333.73,857.06M1333.73,857.06L1335.30,857.30M1335.30,857.30L1336.89,857.62M1336.89,857.62L1338.49,858.01M1338.49,858.01L1340.11,858.48M1340.11,858.48L1341.73,859.02M1341.73,859.02L1343.36,859.65M1343.36,859.65L1344.99,860.34" stroke="#a82c2c" stroke-width="1.7" fill="none" stroke-linejoin="round" stroke-linecap="round"/>
<path d="M217.42,1019.88L218.92,1019.87M218.92,1019.87L220.42,1019.86M220.42,1019.86L221.91,1019.84M221.91,1019.84L223.41,1019.83M223.41,1019.83L224.91,1019.81M224.91,1019.81L226.41,1019.80M226.41,1019.80L227.91,1019.79M227.91,1019.79L229.41,1019.77M229.41,1019.77L230.90,1019.76M230.90,1019.76L232.40,1019.74M232.40,1019.74L233.90,1019.73M233.90,1019.73L235.40,1019.72M235.40,1019.72L236.90,1019.70M236.90,1019.70L238.40,1019.69M238.40,1019.69L239.89,1019.68M239.89,1019.68L241.39,1019.66M241.39,1019.66L242.89,1019.65M242.89,1019.65L244.39,1019.64M244.39,1019.64L245.89,1019.62M245.89,1019.62L247.39,1019.61M247.39,1019.61L248.89,1019.59M248.89,1019.59L250.39,1019.58M250.39,1019.58L251.88,1019.57M251.88,1019.57L253.38,1019.55M253.38,1019.55L254.88,1019.54M254.88,1019.54L256.38,1019.53M256.38,1019.53L257.88,1019.51M257.88,1019.51L259.38,1019.50M259.38,1019.50L260.88,1019.49M260.88,1019.49L262.38,1019.47M262.38,1019.47L263.88,1019.46M263.88,1019.46L265.37,1019.45M265.37,1019.45L266.87,1019.43M266.87,1019.43L268.37,1019.42M268.37,1019.42L269.87,1019.41M269.87,1019.41L271.37,1019.40M271.37,1019.40L272.87,1019.38M272.87,1019.38L274.37,1019.37M274.37,1019.37L275.87,1019.36M275.87,1019.36L277.37,1019.34M277.37,1019.34L278.87,1019.33M278.87,1019.33L280.37,1019.32M280.37,1019.32L281.86,1019.30M281.86,1019.30L283.36,1019.29M283.36,1019.29L284.86,1019.28M284.86,1019.28L286.36,1019.27M286.36,1019.27L287.86,1019.25M287.86,1019.25L289.36,1019.24M289.36,1019.24L290.86,1019.23M290.86,1019.23L292.36,1019.21M292.36,1019.21L293.86,1019.20M293.86,1019.20L295.36,1019.19M295.36,1019.19L296.86,1019.18M296.86,1019.18L298.36,1019.16M298.36,1019.16L299.86,1019.15M299.86,1019.15L301.36,1019.14M301.36,1019.14L302.86,1019.13M302.86,1019.13L304.36,1019.11M304.36,1019.11L305.85,1019.10M305.85,1019.10L307.35,1019.09M307.35,1019.09L308.85,1019.08M308.85,1019.08L310.35,1019.06M310.35,1019.06L311.85,1019.05M311.85,1019.05L313.35,1019.04M313.35,1019.04L314.85,1019.03M314.85,1019.03L316.35,1019.01M316.35,1019.01L317.85,1019.00M317.85,1019.00L319.35,1018.99M319.35,1018.99L320.85,1018.98M320.85,1018.98L322.35,1018.97M322.35,1018.97L323.85,1018.95M323.85,1018.95L325.35,1018.94M325.35,1018.94L326.85,1018.93M326.85,1018.93L328.35,1018.92M328.35,1018.92L329.85,1018.90M329.85,1018.90L331.35,1018.89M331.35,1018.89L332.85,1018.88M332.85,1018.88L334.35,1018.87M334.35,1018.87L335.85,1018.86M335.85,1018.86L337.35,1018.84M337.35,1018.84L338.85,1018.83M338.85,1018.83L340.35,1018.82M340.35,1018.82L341.85,1018.81M341.85,1018.81L343.35,1018.80M343.35,1018.80L344.85,1018.78M344.85,1018.78L346.35,1018.77M346.35,1018.77L347.85,1018.76M347.85,1018.76L349.35,1018.75M349.35,1018.75L350.85,1018.74M350.85,1018.74L352.35,1018.72M352.35,1018.72L353.85,1018.71M353.85,1018.71L355.35,1018.70M355.35,1018.70L356.85,1018.69M356.85,1018.69L358.35,1018.68M358.35,1018.68L359.85,1018.67M359.85,1018.67L361.35,1018.65M361.35,1018.65L362.85,1018.64M362.85,1018.64L364.35,1018.63M364.35,1018.63L365.85,1018.62M365.85,1018.62L367.35,1018.61M367.35,1018.61L368.85,1018.59M368.85,1018.59L370.35,1018.58M370.35,1018.58L371.85,1018.57M371.85,1018.57L373.35,1018.56M373.35,1018.56L374.85,1018.55M374.85,1018.55L376.35,1018.54M376.35,1018.54L377.85,1018.53M377.85,1018.53L379.35,1018.51M379.35,1018.51L380.85,1018.50M380.85,1018.50L382.35,1018.49M382.35,1018.49L383.85,1018.48M383.85,1018.48L385.35,1018.47M385.35,1018.47L386.86,1018.46M386.86,1018.46L388.36,1018.44M388.36,1018.44L389.86,1018.43M389.86,1018.43L391.36,1018.42M391.36,1018.42L392.86,1018.41M392.86,1018.41L394.36,1018.40M394.36,1018.40L395.86,1018.39M395.86,1018.39L397.36,1018.38M397.36,1018.38L398.86,1018.36M398.86,1018.36L400.36,1018.35M400.36,1018.35L401.86,1018.34M401.86,1018.34L403.36,1018.33M403.36,1018.33L404.86,1018.32M404.86,1018.32L406.36,1018.31M406.36,1018.31L407.86,1018.30M407.86,1018.30L409.36,1018.29M409.36,1018.29L410.86,1018.27M410.86,1018.27L412.36,1018.26M412.36,1018.26L413.86,1018.25M413.86,1018.25L415.36,1018.24M415.36,1018.24L416.86,1018.23M416.86,1018.23L418.37,1018.22M418.37,1018.22L419.87,1018.21M419.87,1018.21L421.37,1018.20M421.37,1018.20L422.87,1018.19M422.87,1018.19L424.37,1018.17M424.37,1018.17L425.87,1018.16M425.87,1018.16L427.37,1018.15M427.37,1018.15L428.87,1018.14M428.87,1018.14L430.37,1018.13M430.37,1018.13L431.87,1018.12M431.87,1018.12L433.37,1018.11M433.37,1018.11L434.87,1018.10M434.87,1018.10L436.37,1018.09M436.37,1018.09L437.87,1018.07M437.87,1018.07L439.37,1018.06M439.37,1018.06L440.88,1018.05M440.88,1018.05L442.38,1018.04M442.38,1018.04L443.88,1018.03M443.88,1018.03L445.38,1018.02M445.38,1018.02L446.88,1018.01M446.88,1018.01L448.38,1018.00M448.38,1018.00L449.88,1017.99M449.88,1017.99L451.38,1017.98M451.38,1017.98L452.88,1017.96M452.88,1017.96L454.38,1017.95M454.38,1017.95L455.88,1017.94M455.88,1017.94L457.38,1017.93M457.38,1017.93L458.88,1017.92M458.88,1017.92L460.38,1017.91M460.38,1017.91L461.89,1017.90M461.89,1017.90L463.39,1017.89M463.39,1017.89L464.89,1017.88M464.89,1017.88L466.39,1017.87M466.39,1017.87L467.89,1017.86M467.89,1017.86L469.39,1017.85M469.39,1017.85L470.89,1017.83M470.89,1017.83L472.39,1017.82M472.39,1017.82L473.89,1017.81M473.89,1017.81L475.39,1017.80M475.39,1017.80L476.89,1017.79M476.89,1017.79L478.39,1017.78M478.39,1017.78L479.89,1017.77M479.89,1017.77L481.40,1017.76M481.40,1017.76L482.90,1017.75M482.90,1017.75L484.40,1017.74M484.40,1017.74L485.90,1017.73M485.90,1017.73L487.40,1017.72M487.40,1017.72L488.90,1017.70M488.90,1017.70L490.40,1017.69M490.40,1017.69L491.90,1017.68M491.90,1017.68L493.40,1017.67M493.40,1017.67L494.90,1017.66M494.90,1017.66L496.40,1017.65M496.40,1017.65L497.90,1017.64M497.90,1017.64L499.41,1017.63M499.41,1017.63L500.91,1017.62M500.91,1017.62L502.41,1017.61M502.41,1017.61L503.91,1017.60M503.91,1017.60L505.41,1017.59M505.41,1017.59L506.91,1017.58M506.91,1017.58L508.41,1017.57M508.41,1017.57L509.91,1017.56M509.91,1017.56L511.41,1017.54M511.41,1017.54L512.91,1017.53M512.91,1017.53L514.41,1017.52M514.41,1017.52L515.91,1017.51M515.91,1017.51L517.42,1017.50M517.42,1017.50L518.92,1017.49M518.92,1017.49L520.42,1017.48M520.42,1017.48L521.92,1017.47M521.92,1017.47L523.42,1017.46M523.42,1017.46L524.92,1017.45M524.92,1017.45L526.42,1017.44M526.42,1017.44L527.92,1017.43M527.92,1017.43L529.42,1017.42M529.42,1017.42L530.92,1017.41M530.92,1017.41L532.42,1017.40M532.42,1017.40L533.92,1017.38M533.92,1017.38L535.43,1017.37M535.43,1017.37L536.93,1017.36M536.93,1017.36L538.43,1017.35M538.43,1017.35L539.93,1017.34M539.93,1017.34L541.43,1017.33M541.43,1017.33L542.93,1017.32M542.93,1017.32L544.43,1017.31M544.43,1017.31L545.93,1017.30M545.93,1017.30L547.43,1017.29M547.43,1017.29L548.93,1017.28M548.93,1017.28L550.43,1017.27M550.43,1017.27L551.93,1017.26M551.93,1017.26L553.44,1017.25M553.44,1017.25L554.94,1017.24M554.94,1017.24L556.44,1017.23M556.44,1017.23L557.94,1017.21M557.94,1017.21L559.44,1017.20M559.44,1017.20L560.94,1017.19M560.94,1017.19L562.44,1017.18M562.44,1017.18L563.94,1017.17M563.94,1017.17L565.44,1017.16M565.44,1017.16L566.94,1017.15M566.94,1017.15L568.44,1017.14M568.44,1017.14L569.94,1017.13M569.94,1017.13L571.44,1017.12M571.44,1017.12L572.94,1017.11M572.94,1017.11L574.45,1017.10M574.45,1017.10L575.95,1017.09M575.95,1017.09L577.45,1017.08M577.45,1017.08L578.95,1017.07M578.95,1017.07L580.45,1017.06M580.45,1017.06L581.95,1017.04M581.95,1017.04L583.45,1017.03M583.45,1017.03L584.95,1017.02M584.95,1017.02L586.45,1017.01M586.45,1017.01L587.95,1017.00M587.95,1017.00L589.45,1016.99M589.45,1016.99L590.95,1016.98M590.95,1016.98L592.45,1016.97M592.45,1016.97L593.95,1016.96M593.95,1016.96L595.45,1016.95M595.45,1016.95L596.96,1016.94M596.96,1016.94L598.46,1016.93M598.46,1016.93L599.96,1016.92M599.96,1016.92L601.46,1016.91M601.46,1016.91L602.96,1016.90M602.96,1016.90L604.46,1016.88M604.46,1016.88L605.96,1016.87M605.96,1016.87L607.46,1016.86M607.46,1016.86L608.96,1016.85M608.96,1016.85L610.46,1016.84M610.46,1016.84L611.96,1016.83M611.96,1016.83L613.46,1016.82M613.46,1016.82L614.96,1016.81M614.96,1016.81L616.46,1016.80M616.46,1016.80L617.96,1016.79M617.96,1016.79L619.46,1016.78M619.46,1016.78L620.96,1016.77M620.96,1016.77L622.46,1016.76M622.46,1016.76L623.96,1016.74M623.96,1016.74L625.46,1016.73M625.46,1016.73L626.96,1016.72M626.96,1016.72L628.47,1016.71M628.47,1016.71L629.97,1016.70M629.97,1016.70L631.47,1016.69M631.47,1016.69L632.97,1016.68M632.97,1016.68L634.47,1016.67M634.47,1016.67L635.97,1016.66M635.97,1016.66L637.47,1016.65M637.47,1016.65L638.97,1016.64M638.97,1016.64L640.47,1016.63M640.47,1016.63L641.97,1016.61M641.97,1016.61L643.47,1016.60M643.47,1016.60L644.97,1016.59M644.97,1016.59L646.47,1016.58M646.47,1016.58L647.97,1016.57M647.97,1016.57L649.47,1016.56M649.47,1016.56L650.97,1016.55M650.97,1016.55L652.47,1016.54M652.47,1016.54L653.97,1016.53M653.97,1016.53L655.47,1016.52M655.47,1016.52L656.97,1016.51M656.97,1016.51L658.47,1016.49M658.47,1016.49L659.97,1016.48M659.97,1016.48L661.47,1016.47M661.47,1016.47L662.97,1016.46M662.97,1016.46L664.47,1016.45M664.47,1016.45L665.97,1016.44M665.97,1016.44L667.47,1016.43M667.47,1016.43L668.97,1016.42M668.97,1016.42L670.47,1016.41M670.47,1016.41L671.97,1016.40M671.97,1016.40L673.47,1016.38M673.47,1016.38L674.97,1016.37M674.97,1016.37L676.47,1016.36M676.47,1016.36L677.97,1016.35M677.97,1016.35L679.47,1016.34M679.47,1016.34L680.97,1016.33M680.97,1016.33L682.47,1016.32M682.47,1016.32L683.97,1016.31M683.97,1016.31L685.47,1016.30M685.47,1016.30L686.97,1016.28M686.97,1016.28L688.47,1016.27M688.47,1016.27L689.97,1016.26M689.97,1016.26L691.47,1016.25M691.47,1016.25L692.97,1016.24M692.97,1016.24L694.47,1016.23M694.47,1016.23L695.97,1016.22M695.97,1016.22L697.47,1016.21M697.47,1016.21L698.97,1016.19M698.97,1016.19L700.47,1016.18M700.47,1016.18L701.97,1016.17M701.97,1016.17L703.47,1016.16M703.47,1016.16L704.97,1016.15M704.97,1016.15L706.47,1016.14M706.47,1016.14L707.97,1016.13M707.97,1016.13L709.47,1016.11M709.47,1016.11L710.96,1016.10M710.96,1016.10L712.46,1016.09M712.46,1016.09L713.96,1016.08M713.96,1016.08L715.46,1016.07M715.46,1016.07L716.96,1016.06M716.96,1016.06L718.46,1016.05M718.46,1016.05L719.96,1016.03M719.96,1016.03L721.46,1016.02M721.46,1016.02L722.96,1016.01M722.96,1016.01L724.46,1016.00M724.46,1016.00L725.96,1015.99M725.96,1015.99L727.46,1015.98M727.46,1015.98L728.96,1015.96M728.96,1015.96L730.46,1015.95M730.46,1015.95L731.96,1015.94M731.96,1015.94L733.46,1015.93M733.46,1015.93L734.95,1015.92M734.95,1015.92L736.45,1015.91M736.45,1015.91L737.95,1015.89M737.95,1015.89L739.45,1015.88M739.45,1015.88L740.95,1015.87M740.95,1015.87L742.45,1015.86M742.45,1015.86L743.95,1015.85M743.95,1015.85L745.45,1015.84M745.45,1015.84L746.95,1015.82M746.95,1015.82L748.45,1015.81M748.45,1015.81L749.95,1015.80M749.95,1015.80L751.44,1015.79M751.44,1015.79L752.94,1015.78M752.94,1015.78L754.44,1015.76M754.44,1015.76L755.94,1015.75M755.94,1015.75L757.44,1015.74M757.44,1015.74L758.94,1015.73M758.94,1015.73L760.44,1015.72M760.44,1015.72L761.94,1015.70M761.94,1015.70L763.44,1015.69M763.44,1015.69L764.93,1015.68M764.93,1015.68L766.43,1015.67M766.43,1015.67L767.93,1015.66M767.93,1015.66L769.43,1015.64M769.43,1015.64L770.93,1015.63M770.93,1015.63L772.43,1015.62M772.43,1015.62L773.93,1015.61M773.93,1015.61L775.42,1015.60M775.42,1015.60L776.92,1015.58M776.92,1015.58L778.42,1015.57M778.42,1015.57L779.92,1015.56M779.92,1015.56L781.42,1015.55M781.42,1015.55L782.92,1015.53M782.92,1015.53L784.42,1015.52M784.42,1015.52L785.91,1015.51M785.91,1015.51L787.41,1015.50M787.41,1015.50L788.91,1015.49M788.91,1015.49L790.41,1015.47M790.41,1015.47L791.91,1015.46M791.91,1015.46L793.41,1015.45M793.41,1015.45L794.90,1015.44M794.90,1015.44L796.40,1015.42M796.40,1015.42L797.90,1015.41M797.90,1015.41L799.40,1015.40M799.40,1015.40L800.90,1015.39M800.90,1015.39L802.39,1015.37M802.39,1015.37L803.89,1015.36M803.89,1015.36L805.39,1015.35M805.39,1015.35L806.89,1015.33M806.89,1015.33L808.39,1015.32M808.39,1015.32L809.88,1015.31M809.88,1015.31L811.38,1015.30M811.38,1015.30L812.88,1015.28M812.88,1015.28L814.38,1015.27M814.38,1015.27L815.88,1015.26M815.88,1015.26L817.37,1015.25M817.37,1015.25L818.87,1015.23M818.87,1015.23L820.37,1015.22M820.37,1015.22L821.87,1015.21M821.87,1015.21L823.36,1015.19M823.36,1015.19L824.86,1015.18M824.86,1015.18L826.36,1015.17M826.36,1015.17L827.86,1015.15M827.86,1015.15L829.36,1015.14M829.36,1015.14L830.85,1015.13M830.85,1015.13L832.35,1015.12M832.35,1015.12L833.85,1015.10M833.85,1015.10L835.35,1015.09M835.35,1015.09L836.84,1015.08M836.84,1015.08L838.34,1015.06M838.34,1015.06L839.84,1015.05M839.84,1015.05L841.33,1015.04M841.33,1015.04L842.83,1015.02M842.83,1015.02L844.33,1015.01M844.33,1015.01L845.83,1015.00M845.83,1015.00L847.32,1014.98M847.32,1014.98L848.82,1014.97M848.82,1014.97L850.32,1014.96M850.32,1014.96L851.82,1014.94M851.82,1014.94L853.31,1014.93M853.31,1014.93L854.81,1014.92M854.81,1014.92L856.31,1014.90M856.31,1014.90L857.80,1014.89M857.80,1014.89L859.30,1014.87M859.30,1014.87L860.80,1014.86M860.80,1014.86L862.29,1014.85M862.29,1014.85L863.79,1014.83M863.79,1014.83L865.29,1014.82M865.29,1014.82L866.79,1014.80M866.79,1014.80L868.28,1014.79M868.28,1014.79L869.78,1014.77M869.78,1014.77L871.28,1014.75M871.28,1014.75L872.77,1014.74M872.77,1014.74L874.27,1014.72M874.27,1014.72L875.77,1014.70M875.77,1014.70L877.26,1014.69M877.26,1014.69L878.76,1014.67M878.76,1014.67L880.26,1014.65M880.26,1014.65L881.76,1014.63M881.76,1014.63L883.25,1014.61M883.25,1014.61L884.75,1014.59M884.75,1014.59L886.25,1014.57M886.25,1014.57L887.74,1014.55M887.74,1014.55L889.24,1014.53M889.24,1014.53L890.74,1014.50M890.74,1014.50L892.24,1014.48M892.24,1014.48L893.73,1014.46M893.73,1014.46L895.23,1014.43M895.23,1014.43L896.73,1014.41M896.73,1014.41L898.23,1014.38M898.23,1014.38L899.72,1014.36M899.72,1014.36L901.22,1014.33M901.22,1014.33L902.72,1014.30M902.72,1014.30L904.22,1014.27M904.22,1014.27L905.72,1014.24M905.72,1014.24L907.21,1014.21M907.21,1014.21L908.71,1014.18M908.71,1014.18L910.21,1014.14M910.21,1014.14L911.71,1014.11M911.71,1014.11L913.21,1014.07M913.21,1014.07L914.71,1014.04M914.71,1014.04L916.21,1014.00M916.21,1014.00L917.70,1013.96M917.70,1013.96L919.20,1013.93M919.20,1013.93L920.70,1013.89M920.70,1013.89L922.20,1013.84M922.20,1013.84L923.70,1013.80M923.70,1013.80L925.20,1013.76M925.20,1013.76L926.70,1013.71M926.70,1013.71L928.20,1013.67M928.20,1013.67L929.70,1013.62M929.70,1013.62L931.20,1013.57M931.20,1013.57L932.70,1013.52M932.70,1013.52L934.20,1013.47M934.20,1013.47L935.70,1013.42M935.70,1013.42L937.20,1013.36M937.20,1013.36L938.70,1013.31M938.70,1013.31L940.20,1013.25M940.20,1013.25L941.70,1013.19M941.70,1013.19L943.20,1013.14M943.20,1013.14L944.71,1013.07M944.71,1013.07L946.21,1013.01M946.21,1013.01L947.71,1012.95M947.71,1012.95L949.21,1012.88M949.21,1012.88L950.71,1012.82M950.71,1012.82L952.22,1012.75M952.22,1012.75L953.72,1012.68M953.72,1012.68L955.22,1012.60M955.22,1012.60L956.72,1012.53M956.72,1012.53L958.23,1012.46M958.23,1012.46L959.73,1012.38M959.73,1012.38L961.23,1012.30M961.23,1012.30L962.74,1012.22M962.74,1012.22L964.24,1012.14M964.24,1012.14L965.74,1012.05M965.74,1012.05L967.25,1011.97M967.25,1011.97L968.75,1011.88M968.75,1011.88L970.26,1011.79M970.26,1011.79L971.76,1011.70M971.76,1011.70L973.27,1011.61M973.27,1011.61L974.77,1011.51M974.77,1011.51L976.28,1011.41M976.28,1011.41L977.78,1011.31M977.78,1011.31L979.29,1011.21M979.29,1011.21L980.80,1011.11M980.80,1011.11L982.30,1011.00M982.30,1011.00L983.81,1010.90M983.81,1010.90L985.32,1010.79M985.32,1010.79L986.82,1010.68M986.82,1010.68L988.33,1010.56M988.33,1010.56L989.84,1010.45M989.84,1010.45L991.35,1010.33M991.35,1010.33L992.85,1010.21M992.85,1010.21L994.36,1010.08M994.36,1010.08L995.87,1009.96M995.87,1009.96L997.38,1009.83M997.38,1009.83L998.89,1009.70M998.89,1009.70L1000.40,1009.57M1000.40,1009.57L1001.91,1009.44M1001.91,1009.44L1003.42,1009.30M1003.42,1009.30L1004.93,1009.16M1004.93,1009.16L1006.44,1009.01M1006.44,1009.01L1007.95,1008.86M1007.95,1008.86L1009.45,1008.70M1009.45,1008.70L1010.96,1008.54M1010.96,1008.54L1012.46,1008.37M1012.46,1008.37L1013.96,1008.19M1013.96,1008.19L1015.46,1008.00M1015.46,1008.00L1016.95,1007.80M1016.95,1007.80L1018.44,1007.59M1018.44,1007.59L1019.93,1007.37M1019.93,1007.37L1021.41,1007.14M1021.41,1007.14L1022.89,1006.90M1022.89,1006.90L1024.37,1006.64M1024.37,1006.64L1025.83,1006.37M1025.83,1006.37L1027.30,1006.09M1027.30,1006.09L1028.76,1005.79M1028.76,1005.79L1030.21,1005.47M1030.21,1005.47L1031.66,1005.14M1031.66,1005.14L1033.10,1004.79M1033.10,1004.79L1034.53,1004.42M1034.53,1004.42L1035.95,1004.03M1244.15,123.78L1245.42,123.68M1245.42,123.68L1246.67,123.88M1286.07,229.60L1286.56,229.47" stroke="#ff3c3c" stroke-width="2.6" fill="none" stroke-linejoin="round" stroke-linecap="round"/><path d="M1035.95,1004.03L1037.37,1003.62M1037.37,1003.62L1038.78,1003.19M1038.78,1003.19L1040.18,1002.75M1040.18,1002.75L1041.58,1002.28M1041.58,1002.28L1042.96,1001.79M1042.96,1001.79L1044.34,1001.27M1044.34,1001.27L1045.71,1000.74M1045.71,1000.74L1047.07,1000.18M1047.07,1000.18L1048.42,999.61M1048.42,999.61L1049.76,999.01M1049.76,999.01L1051.09,998.40M1051.09,998.40L1052.42,997.76M1052.42,997.76L1053.73,997.11M1053.73,997.11L1055.04,996.44M1055.04,996.44L1056.34,995.74M1056.34,995.74L1057.63,995.03M1057.63,995.03L1058.91,994.30M1058.91,994.30L1060.18,993.55M1060.18,993.55L1061.45,992.79M1061.45,992.79L1062.70,992.00M1062.70,992.00L1063.95,991.20M1063.95,991.20L1065.19,990.38M1065.19,990.38L1066.41,989.54M1066.41,989.54L1067.63,988.69M1067.63,988.69L1068.85,987.82M1068.85,987.82L1070.05,986.93M1070.05,986.93L1071.24,986.03M1071.24,986.03L1072.43,985.11M1072.43,985.11L1073.61,984.18M1073.61,984.18L1074.77,983.23M1074.77,983.23L1075.93,982.26M1075.93,982.26L1077.08,981.28M1234.01,128.71L1235.14,127.95M1235.14,127.95L1236.39,127.38M1236.39,127.38L1237.73,126.90M1237.73,126.90L1239.07,126.37M1239.07,126.37L1240.38,125.70M1240.38,125.70L1241.64,124.91M1241.64,124.91L1242.89,124.20M1242.89,124.20L1244.15,123.78M1246.67,123.88L1247.87,124.33M1247.87,124.33L1249.01,125.02M1290.51,217.81L1291.07,217.28M1291.07,217.28L1291.62,217.67" stroke="#ff3c3c" stroke-width="2.5" fill="none" stroke-linejoin="round" stroke-linecap="round"/><path d="M1077.08,981.28L1078.22,980.29M1078.22,980.29L1079.36,979.28M1079.36,979.28L1080.48,978.26M1080.48,978.26L1081.59,977.22M1081.59,977.22L1082.70,976.17M1082.70,976.17L1083.79,975.11M1083.79,975.11L1084.88,974.03M1084.88,974.03L1085.95,972.94M1085.95,972.94L1087.01,971.84M1087.01,971.84L1088.06,970.73M1088.06,970.73L1089.10,969.60M1089.10,969.60L1090.13,968.47M1090.13,968.47L1091.14,967.32M1091.14,967.32L1092.14,966.16M1092.14,966.16L1093.12,964.99M1093.12,964.99L1094.09,963.81M1094.09,963.81L1095.04,962.62M1095.04,962.62L1095.98,961.42M1095.98,961.42L1096.91,960.21M1096.91,960.21L1097.82,958.99M1097.82,958.99L1098.71,957.77M1098.71,957.77L1099.58,956.53M1232.11,130.76L1233.01,129.66M1233.01,129.66L1234.01,128.71M1249.01,125.02L1250.05,125.93M1250.05,125.93L1250.98,127.02M1285.61,228.83L1286.07,229.60M1295.09,225.03L1296.02,226.26M1296.02,226.26L1296.97,227.39M1296.97,227.39L1297.91,228.48M1297.91,228.48L1298.82,229.56M1298.82,229.56L1299.67,230.67M1337.88,342.93L1338.73,344.12M1338.73,344.12L1339.61,345.30M1339.61,345.30L1340.51,346.46M1340.51,346.46L1341.45,347.62M1341.45,347.62L1342.43,348.77M1342.43,348.77L1343.43,349.91M1343.43,349.91L1344.48,351.06" stroke="#ff3c3c" stroke-width="2.4" fill="none" stroke-linejoin="round" stroke-linecap="round"/><path d="M1099.58,956.53L1100.44,955.29M1100.44,955.29L1101.28,954.04M1101.28,954.04L1102.10,952.78M1102.10,952.78L1102.91,951.51M1102.91,951.51L1103.70,950.24M1103.70,950.24L1104.48,948.96M1104.48,948.96L1105.24,947.67M1105.24,947.67L1105.99,946.37M1105.99,946.37L1106.72,945.07M1106.72,945.07L1107.43,943.76M1107.43,943.76L1108.14,942.44M1108.14,942.44L1108.83,941.12M1108.83,941.12L1109.50,939.79M1230.60,133.32L1231.32,131.99M1231.32,131.99L1232.11,130.76M1250.98,127.02L1251.79,128.27M1251.79,128.27L1252.50,129.65M1286.56,229.47L1287.09,228.51M1289.94,219.07L1290.51,217.81M1291.62,217.67L1292.17,218.82M1293.44,222.12L1294.23,223.67M1294.23,223.67L1295.09,225.03M1299.67,230.67L1300.42,231.86M1300.42,231.86L1301.09,233.12M1331.98,332.72L1332.65,334.05M1332.65,334.05L1333.34,335.38M1333.34,335.38L1334.04,336.68M1334.04,336.68L1334.76,337.97M1334.76,337.97L1335.51,339.25M1335.51,339.25L1336.27,340.50M1336.27,340.50L1337.07,341.72M1337.07,341.72L1337.88,342.93" stroke="#ff3c3c" stroke-width="2.3" fill="none" stroke-linejoin="round" stroke-linecap="round"/><path d="M1109.50,939.79L1110.16,938.46M1110.16,938.46L1110.81,937.12M1110.81,937.12L1111.45,935.77M1111.45,935.77L1112.08,934.42M1112.08,934.42L1112.69,933.06M1112.69,933.06L1113.29,931.69M1113.29,931.69L1113.88,930.33M1113.88,930.33L1114.46,928.95M1114.46,928.95L1115.02,927.57M1115.02,927.57L1115.58,926.19M1115.58,926.19L1116.13,924.80M1228.78,137.64L1229.34,136.17M1229.34,136.17L1229.94,134.72M1229.94,134.72L1230.60,133.32M1252.50,129.65L1253.12,131.13M1259.32,150.25L1259.85,151.61M1259.85,151.61L1260.39,152.97M1260.39,152.97L1260.94,154.33M1260.94,154.33L1261.50,155.69M1261.50,155.69L1262.08,157.05M1262.08,157.05L1262.65,158.41M1262.65,158.41L1263.24,159.78M1263.24,159.78L1263.83,161.14M1263.83,161.14L1264.43,162.51M1264.43,162.51L1265.03,163.88M1265.03,163.88L1265.63,165.25M1265.63,165.25L1266.24,166.62M1266.24,166.62L1266.85,167.99M1266.85,167.99L1267.45,169.37M1267.45,169.37L1268.06,170.75M1268.06,170.75L1268.66,172.13M1268.66,172.13L1269.27,173.51M1269.27,173.51L1269.86,174.89M1269.86,174.89L1270.46,176.28M1270.46,176.28L1271.04,177.67M1271.04,177.67L1271.63,179.06M1271.63,179.06L1272.20,180.46M1272.20,180.46L1272.76,181.86M1272.76,181.86L1273.32,183.26M1287.09,228.51L1287.63,226.95M1292.17,218.82L1292.77,220.42M1292.77,220.42L1293.44,222.12M1301.09,233.12L1301.68,234.44M1301.68,234.44L1302.22,235.82M1305.69,245.88L1306.26,247.28M1306.26,247.28L1306.85,248.66M1306.85,248.66L1307.45,250.03M1307.45,250.03L1308.06,251.40M1308.06,251.40L1308.67,252.76M1308.67,252.76L1309.27,254.13M1309.27,254.13L1309.86,255.49M1309.86,255.49L1310.44,256.85M1310.44,256.85L1310.99,258.23M1322.99,312.13L1323.53,313.51M1323.53,313.51L1324.09,314.89M1324.09,314.89L1324.66,316.27M1324.66,316.27L1325.23,317.64M1325.23,317.64L1325.82,319.02M1325.82,319.02L1326.41,320.39M1326.41,320.39L1327.01,321.77M1327.01,321.77L1327.61,323.15M1327.61,323.15L1328.22,324.52M1328.22,324.52L1328.82,325.90M1328.82,325.90L1329.44,327.28M1329.44,327.28L1330.06,328.65M1330.06,328.65L1330.69,330.01M1330.69,330.01L1331.33,331.37M1331.33,331.37L1331.98,332.72" stroke="#ff3c3c" stroke-width="2.2" fill="none" stroke-linejoin="round" stroke-linecap="round"/><path d="M1116.13,924.80L1116.66,923.41M1116.66,923.41L1117.19,922.01M1117.19,922.01L1117.71,920.61M1117.71,920.61L1118.22,919.21M1118.22,919.21L1118.72,917.80M1118.72,917.80L1119.21,916.39M1119.21,916.39L1119.69,914.97M1119.69,914.97L1120.17,913.56M1120.17,913.56L1120.64,912.13M1120.64,912.13L1121.10,910.71M1121.10,910.71L1121.55,909.28M1226.74,143.52L1227.22,142.06M1227.22,142.06L1227.71,140.59M1227.71,140.59L1228.23,139.12M1228.23,139.12L1228.78,137.64M1253.12,131.13L1253.67,132.68M1253.67,132.68L1254.17,134.28M1256.40,141.99L1256.86,143.41M1256.86,143.41L1257.33,144.80M1257.33,144.80L1257.81,146.17M1257.81,146.17L1258.30,147.53M1258.30,147.53L1258.80,148.89M1258.80,148.89L1259.32,150.25M1273.32,183.26L1273.86,184.67M1273.86,184.67L1274.40,186.08M1274.40,186.08L1274.92,187.49M1274.92,187.49L1275.43,188.91M1275.43,188.91L1275.92,190.33M1275.92,190.33L1276.40,191.75M1276.40,191.75L1276.86,193.18M1285.17,227.41L1285.61,228.83M1287.63,226.95L1288.20,225.00M1289.36,220.83L1289.94,219.07M1302.22,235.82L1302.72,237.24M1302.72,237.24L1303.20,238.68M1303.20,238.68L1303.66,240.13M1303.66,240.13L1304.13,241.59M1304.13,241.59L1304.62,243.04M1304.62,243.04L1305.14,244.47M1305.14,244.47L1305.69,245.88M1310.99,258.23L1311.52,259.61M1311.52,259.61L1312.01,261.00M1312.01,261.00L1312.47,262.41M1320.52,305.13L1320.98,306.54M1320.98,306.54L1321.45,307.95M1321.45,307.95L1321.95,309.35M1321.95,309.35L1322.46,310.74M1322.46,310.74L1322.99,312.13" stroke="#ff3c3c" stroke-width="2.1" fill="none" stroke-linejoin="round" stroke-linecap="round"/><path d="M1121.55,909.28L1122.00,907.85M1122.00,907.85L1122.44,906.42M1122.44,906.42L1122.87,904.99M1122.87,904.99L1123.30,903.55M1123.30,903.55L1123.73,902.11M1123.73,902.11L1124.14,900.67M1124.14,900.67L1124.56,899.23M1124.56,899.23L1124.97,897.78M1124.97,897.78L1125.37,896.34M1125.37,896.34L1125.77,894.89M1125.77,894.89L1126.17,893.45M1126.17,893.45L1126.56,892.00M1126.56,892.00L1126.95,890.55M1225.01,149.38L1225.42,147.92M1225.42,147.92L1225.84,146.46M1225.84,146.46L1226.28,144.99M1226.28,144.99L1226.74,143.52M1254.17,134.28L1254.63,135.89M1254.63,135.89L1255.08,137.48M1255.08,137.48L1255.51,139.03M1255.51,139.03L1255.96,140.53M1255.96,140.53L1256.40,141.99M1276.86,193.18L1277.31,194.61M1277.31,194.61L1277.74,196.05M1277.74,196.05L1278.14,197.49M1284.75,225.63L1285.17,227.41M1288.20,225.00L1288.78,222.88M1288.78,222.88L1289.36,220.83M1312.47,262.41L1312.89,263.83M1312.89,263.83L1313.28,265.26M1319.69,302.28L1320.10,303.71M1320.10,303.71L1320.52,305.13" stroke="#ff3c3c" stroke-width="2.0" fill="none" stroke-linejoin="round" stroke-linecap="round"/><path d="M1126.95,890.55L1127.34,889.10M1127.34,889.10L1127.72,887.65M1127.72,887.65L1128.10,886.20M1128.10,886.20L1128.48,884.75M1128.48,884.75L1128.86,883.30M1128.86,883.30L1129.23,881.84M1129.23,881.84L1129.60,880.39M1129.60,880.39L1129.97,878.94M1129.97,878.94L1130.33,877.49M1130.33,877.49L1130.70,876.03M1130.70,876.03L1131.06,874.58M1131.06,874.58L1131.41,873.12M1131.41,873.12L1131.77,871.66M1131.77,871.66L1132.12,870.21M1132.12,870.21L1132.47,868.75M1132.47,868.75L1132.81,867.29M1132.81,867.29L1133.16,865.84M1133.16,865.84L1133.50,864.38M1133.50,864.38L1133.84,862.92M1133.84,862.92L1134.17,861.46M1134.17,861.46L1134.50,860.00M1134.50,860.00L1134.84,858.54M1134.84,858.54L1135.16,857.08M1135.16,857.08L1135.49,855.62M1135.49,855.62L1135.81,854.15M1135.81,854.15L1136.13,852.69M1136.13,852.69L1136.45,851.23M1136.45,851.23L1136.77,849.76M1136.77,849.76L1137.08,848.30M1137.08,848.30L1137.39,846.84M1137.39,846.84L1137.70,845.37M1137.70,845.37L1138.01,843.91M1138.01,843.91L1138.31,842.44M1138.31,842.44L1138.61,840.97M1138.61,840.97L1138.91,839.51M1138.91,839.51L1139.21,838.04M1139.21,838.04L1139.50,836.57M1139.50,836.57L1139.80,835.10M1139.80,835.10L1140.09,833.64M1140.09,833.64L1140.38,832.17M1140.38,832.17L1140.66,830.70M1140.66,830.70L1140.94,829.23M1140.94,829.23L1141.23,827.76M1141.23,827.76L1141.51,826.29M1141.51,826.29L1141.78,824.82M1141.78,824.82L1142.06,823.34M1142.06,823.34L1142.33,821.87M1142.33,821.87L1142.60,820.40M1142.60,820.40L1142.87,818.93M1142.87,818.93L1143.14,817.45M1143.14,817.45L1143.40,815.98M1143.40,815.98L1143.66,814.51M1143.66,814.51L1143.92,813.03M1143.92,813.03L1144.18,811.56M1144.18,811.56L1144.44,810.08M1144.44,810.08L1144.69,808.61M1144.69,808.61L1144.95,807.13M1144.95,807.13L1145.20,805.66M1145.20,805.66L1145.45,804.18M1145.45,804.18L1145.69,802.70M1145.69,802.70L1145.94,801.22M1145.94,801.22L1146.18,799.75M1146.18,799.75L1146.42,798.27M1146.42,798.27L1146.66,796.79M1146.66,796.79L1146.90,795.31M1146.90,795.31L1147.14,793.83M1147.14,793.83L1147.37,792.35M1147.37,792.35L1147.60,790.87M1147.60,790.87L1147.83,789.39M1147.83,789.39L1148.06,787.91M1148.06,787.91L1148.29,786.43M1148.29,786.43L1148.51,784.95M1148.51,784.95L1148.74,783.47M1148.74,783.47L1148.96,781.99M1148.96,781.99L1149.18,780.51M1149.18,780.51L1149.40,779.02M1149.40,779.02L1149.62,777.54M1149.62,777.54L1149.83,776.06M1149.83,776.06L1150.05,774.57M1150.05,774.57L1150.26,773.09M1150.26,773.09L1150.47,771.61M1150.47,771.61L1150.68,770.12M1150.68,770.12L1150.89,768.64M1150.89,768.64L1151.09,767.15M1151.09,767.15L1151.30,765.67M1151.30,765.67L1151.50,764.18M1151.50,764.18L1151.70,762.70M1151.70,762.70L1151.90,761.21M1151.90,761.21L1152.10,759.73M1152.10,759.73L1152.30,758.24M1152.30,758.24L1152.49,756.75M1152.49,756.75L1152.69,755.27M1152.69,755.27L1152.88,753.78M1152.88,753.78L1153.07,752.29M1153.07,752.29L1153.26,750.80M1153.26,750.80L1153.45,749.32M1153.45,749.32L1153.64,747.83M1153.64,747.83L1153.83,746.34M1153.83,746.34L1154.01,744.85M1154.01,744.85L1154.20,743.36M1154.20,743.36L1154.38,741.87M1154.38,741.87L1154.56,740.38M1154.56,740.38L1154.74,738.89M1154.74,738.89L1154.92,737.40M1154.92,737.40L1155.10,735.91M1155.10,735.91L1155.28,734.42M1155.28,734.42L1155.46,732.93M1155.46,732.93L1155.63,731.44M1155.63,731.44L1155.80,729.95M1155.80,729.95L1155.98,728.46M1155.98,728.46L1156.15,726.97M1156.15,726.97L1156.32,725.48M1156.32,725.48L1156.49,723.99M1156.49,723.99L1156.66,722.50M1156.66,722.50L1156.83,721.00M1156.83,721.00L1156.99,719.51M1156.99,719.51L1157.16,718.02M1157.16,718.02L1157.32,716.53M1157.32,716.53L1157.49,715.03M1157.49,715.03L1157.65,713.54M1157.65,713.54L1157.81,712.05M1157.81,712.05L1157.97,710.56M1157.97,710.56L1158.13,709.06M1158.13,709.06L1158.29,707.57M1158.29,707.57L1158.45,706.08M1158.45,706.08L1158.61,704.58M1158.61,704.58L1158.77,703.09M1158.77,703.09L1158.92,701.59M1158.92,701.59L1159.08,700.10M1159.08,700.10L1159.23,698.61M1159.23,698.61L1159.39,697.11M1159.39,697.11L1159.54,695.62M1159.54,695.62L1159.69,694.12M1159.69,694.12L1159.84,692.63M1159.84,692.63L1159.99,691.13M1159.99,691.13L1160.14,689.64M1160.14,689.64L1160.29,688.14M1160.29,688.14L1160.44,686.65M1160.44,686.65L1160.59,685.15M1160.59,685.15L1160.74,683.66M1160.74,683.66L1160.89,682.16M1160.89,682.16L1161.03,680.67M1161.03,680.67L1161.18,679.17M1161.18,679.17L1161.33,677.68M1161.33,677.68L1161.47,676.18M1161.47,676.18L1161.62,674.69M1161.62,674.69L1161.76,673.19M1161.76,673.19L1161.91,671.69M1161.91,671.69L1162.05,670.20M1162.05,670.20L1162.19,668.70M1162.19,668.70L1162.33,667.21M1162.33,667.21L1162.48,665.71M1162.48,665.71L1162.62,664.21M1162.62,664.21L1162.76,662.72M1162.76,662.72L1162.90,661.22M1162.90,661.22L1163.04,659.73M1163.04,659.73L1163.18,658.23M1163.18,658.23L1163.32,656.73M1163.32,656.73L1163.46,655.24M1163.46,655.24L1163.60,653.74M1163.60,653.74L1163.74,652.24M1163.74,652.24L1163.88,650.75M1163.88,650.75L1164.02,649.25M1164.02,649.25L1164.16,647.75M1164.16,647.75L1164.30,646.26M1164.30,646.26L1164.44,644.76M1164.44,644.76L1164.58,643.27M1164.58,643.27L1164.71,641.77M1164.71,641.77L1164.85,640.27M1164.85,640.27L1164.99,638.78M1164.99,638.78L1165.13,637.28M1165.13,637.28L1165.27,635.78M1165.27,635.78L1165.40,634.29M1165.40,634.29L1165.54,632.79M1165.54,632.79L1165.68,631.29M1165.68,631.29L1165.82,629.80M1165.82,629.80L1165.96,628.30M1165.96,628.30L1166.09,626.81M1166.09,626.81L1166.23,625.31M1166.23,625.31L1166.37,623.81M1166.37,623.81L1166.51,622.32M1166.51,622.32L1166.65,620.82M1166.65,620.82L1166.78,619.33M1166.78,619.33L1166.92,617.83M1166.92,617.83L1167.06,616.33M1167.06,616.33L1167.20,614.84M1167.20,614.84L1167.34,613.34M1167.34,613.34L1167.48,611.85M1167.48,611.85L1167.62,610.35M1167.62,610.35L1167.76,608.86M1167.76,608.86L1167.90,607.36M1167.90,607.36L1168.04,605.87M1168.04,605.87L1168.18,604.37M1168.18,604.37L1168.32,602.88M1168.32,602.88L1168.46,601.38M1168.46,601.38L1168.60,599.89M1168.60,599.89L1168.74,598.39M1168.74,598.39L1168.88,596.90M1168.88,596.90L1169.03,595.40M1169.03,595.40L1169.17,593.91M1169.17,593.91L1169.31,592.41M1169.31,592.41L1169.46,590.92M1169.46,590.92L1169.60,589.42M1169.60,589.42L1169.74,587.93M1169.74,587.93L1169.89,586.44M1169.89,586.44L1170.03,584.94M1170.03,584.94L1170.18,583.45M1170.18,583.45L1170.33,581.96M1170.33,581.96L1170.47,580.46M1170.47,580.46L1170.62,578.97M1170.62,578.97L1170.76,577.47M1170.76,577.47L1170.91,575.98M1170.91,575.98L1171.06,574.49M1171.06,574.49L1171.21,573.00M1171.21,573.00L1171.36,571.50M1171.36,571.50L1171.50,570.01M1171.50,570.01L1171.65,568.52M1171.65,568.52L1171.80,567.02M1171.80,567.02L1171.95,565.53M1171.95,565.53L1172.10,564.04M1172.10,564.04L1172.25,562.55M1172.25,562.55L1172.40,561.05M1172.40,561.05L1172.55,559.56M1172.55,559.56L1172.70,558.07M1172.70,558.07L1172.85,556.58M1172.85,556.58L1173.01,555.09M1173.01,555.09L1173.16,553.59M1173.16,553.59L1173.31,552.10M1173.31,552.10L1173.46,550.61M1173.46,550.61L1173.62,549.12M1173.62,549.12L1173.77,547.63M1173.77,547.63L1173.92,546.14M1173.92,546.14L1174.08,544.64M1174.08,544.64L1174.23,543.15M1174.23,543.15L1174.39,541.66M1174.39,541.66L1174.54,540.17M1174.54,540.17L1174.70,538.68M1174.70,538.68L1174.85,537.19M1174.85,537.19L1175.01,535.70M1175.01,535.70L1175.16,534.21M1175.16,534.21L1175.32,532.71M1175.32,532.71L1175.47,531.22M1175.47,531.22L1175.63,529.73M1175.63,529.73L1175.79,528.24M1175.79,528.24L1175.95,526.75M1175.95,526.75L1176.10,525.26M1176.10,525.26L1176.26,523.77M1176.26,523.77L1176.42,522.28M1176.42,522.28L1176.58,520.79M1176.58,520.79L1176.74,519.30M1176.74,519.30L1176.89,517.81M1176.89,517.81L1177.05,516.32M1177.05,516.32L1177.21,514.83M1177.21,514.83L1177.37,513.34M1177.37,513.34L1177.53,511.85M1177.53,511.85L1177.69,510.36M1177.69,510.36L1177.85,508.87M1177.85,508.87L1178.01,507.38M1178.01,507.38L1178.17,505.89M1178.17,505.89L1178.34,504.40M1178.34,504.40L1178.50,502.91M1178.50,502.91L1178.66,501.42M1178.66,501.42L1178.82,499.93M1178.82,499.93L1178.98,498.44M1178.98,498.44L1179.14,496.95M1179.14,496.95L1179.31,495.46M1179.31,495.46L1179.47,493.97M1179.47,493.97L1179.63,492.48M1179.63,492.48L1179.80,490.99M1179.80,490.99L1179.96,489.50M1179.96,489.50L1180.12,488.01M1180.12,488.01L1180.29,486.53M1180.29,486.53L1180.45,485.04M1180.45,485.04L1180.62,483.55M1180.62,483.55L1180.78,482.06M1180.78,482.06L1180.94,480.57M1180.94,480.57L1181.11,479.08M1181.11,479.08L1181.27,477.59M1181.27,477.59L1181.44,476.10M1181.44,476.10L1181.61,474.61M1181.61,474.61L1181.77,473.12M1181.77,473.12L1181.94,471.63M1181.94,471.63L1182.10,470.15M1182.10,470.15L1182.27,468.66M1182.27,468.66L1182.44,467.17M1182.44,467.17L1182.60,465.68M1182.60,465.68L1182.77,464.19M1182.77,464.19L1182.94,462.70M1182.94,462.70L1183.10,461.21M1183.10,461.21L1183.27,459.72M1183.27,459.72L1183.44,458.24M1183.44,458.24L1183.61,456.75M1183.61,456.75L1183.77,455.26M1183.77,455.26L1183.94,453.77M1183.94,453.77L1184.11,452.28M1184.11,452.28L1184.28,450.79M1184.28,450.79L1184.45,449.30M1184.45,449.30L1184.62,447.81M1184.62,447.81L1184.78,446.33M1184.78,446.33L1184.95,444.84M1184.95,444.84L1185.12,443.35M1185.12,443.35L1185.29,441.86M1185.29,441.86L1185.46,440.37M1185.46,440.37L1185.63,438.88M1185.63,438.88L1185.80,437.39M1185.80,437.39L1185.97,435.91M1185.97,435.91L1186.14,434.42M1186.14,434.42L1186.31,432.93M1186.31,432.93L1186.48,431.44M1186.48,431.44L1186.65,429.95M1186.65,429.95L1186.82,428.46M1186.82,428.46L1186.99,426.97M1186.99,426.97L1187.16,425.49M1187.16,425.49L1187.34,424.00M1187.34,424.00L1187.51,422.51M1187.51,422.51L1187.68,421.02M1187.68,421.02L1187.85,419.53M1187.85,419.53L1188.02,418.04M1188.02,418.04L1188.19,416.55M1188.19,416.55L1188.36,415.07M1188.36,415.07L1188.54,413.58M1188.54,413.58L1188.71,412.09M1188.71,412.09L1188.88,410.60M1188.88,410.60L1189.05,409.11M1189.05,409.11L1189.22,407.62M1189.22,407.62L1189.40,406.13M1189.40,406.13L1189.57,404.65M1189.57,404.65L1189.74,403.16M1189.74,403.16L1189.91,401.67M1189.91,401.67L1190.09,400.18M1190.09,400.18L1190.26,398.69M1190.26,398.69L1190.43,397.20M1190.43,397.20L1190.61,395.71M1190.61,395.71L1190.78,394.22M1190.78,394.22L1190.95,392.74M1190.95,392.74L1191.13,391.25M1191.13,391.25L1191.30,389.76M1191.30,389.76L1191.47,388.27M1191.47,388.27L1191.65,386.78M1191.65,386.78L1191.82,385.29M1191.82,385.29L1191.99,383.80M1191.99,383.80L1192.17,382.31M1192.17,382.31L1192.34,380.82M1192.34,380.82L1192.51,379.33M1192.51,379.33L1192.69,377.85M1192.69,377.85L1192.86,376.36M1192.86,376.36L1193.04,374.87M1193.04,374.87L1193.21,373.38M1193.21,373.38L1193.38,371.89M1193.38,371.89L1193.56,370.40M1193.56,370.40L1193.73,368.91M1193.73,368.91L1193.91,367.42M1193.91,367.42L1194.08,365.93M1194.08,365.93L1194.26,364.44M1194.26,364.44L1194.43,362.95M1194.43,362.95L1194.60,361.46M1194.60,361.46L1194.78,359.97M1194.78,359.97L1194.95,358.48M1194.95,358.48L1195.13,356.99M1195.13,356.99L1195.30,355.50M1195.30,355.50L1195.48,354.01M1195.48,354.01L1195.65,352.52M1195.65,352.52L1195.83,351.03M1195.83,351.03L1196.00,349.54M1196.00,349.54L1196.18,348.05M1196.18,348.05L1196.35,346.56M1196.35,346.56L1196.53,345.07M1196.53,345.07L1196.70,343.58M1196.70,343.58L1196.88,342.09M1196.88,342.09L1197.05,340.60M1197.05,340.60L1197.22,339.11M1197.22,339.11L1197.40,337.62M1197.40,337.62L1197.57,336.13M1197.57,336.13L1197.75,334.64M1197.75,334.64L1197.92,333.15M1197.92,333.15L1198.10,331.66M1198.10,331.66L1198.27,330.17M1198.27,330.17L1198.45,328.68M1198.45,328.68L1198.62,327.19M1198.62,327.19L1198.80,325.70M1198.80,325.70L1198.97,324.21M1198.97,324.21L1199.15,322.72M1199.15,322.72L1199.32,321.22M1199.32,321.22L1199.50,319.73M1199.50,319.73L1199.67,318.24M1199.67,318.24L1199.85,316.75M1199.85,316.75L1200.02,315.26M1200.02,315.26L1200.20,313.77M1200.20,313.77L1200.37,312.28M1200.37,312.28L1200.54,310.79M1200.54,310.79L1200.72,309.29M1200.72,309.29L1200.89,307.80M1200.89,307.80L1201.07,306.31M1201.07,306.31L1201.24,304.82M1201.24,304.82L1201.42,303.33M1201.42,303.33L1201.59,301.83M1201.59,301.83L1201.76,300.34M1201.76,300.34L1201.94,298.85M1201.94,298.85L1202.11,297.36M1202.11,297.36L1202.29,295.87M1202.29,295.87L1202.46,294.37M1202.46,294.37L1202.64,292.88M1202.64,292.88L1202.81,291.39M1202.81,291.39L1202.99,289.90M1202.99,289.90L1203.17,288.40M1203.17,288.40L1203.34,286.91M1203.34,286.91L1203.52,285.42M1203.52,285.42L1203.69,283.93M1203.69,283.93L1203.87,282.44M1203.87,282.44L1204.05,280.94M1204.05,280.94L1204.23,279.45M1204.23,279.45L1204.40,277.96M1204.40,277.96L1204.58,276.47M1204.58,276.47L1204.76,274.98M1204.76,274.98L1204.94,273.48M1204.94,273.48L1205.12,271.99M1205.12,271.99L1205.30,270.50M1205.30,270.50L1205.49,269.01M1205.49,269.01L1205.67,267.52M1205.67,267.52L1205.85,266.03M1205.85,266.03L1206.03,264.54M1206.03,264.54L1206.22,263.05M1206.22,263.05L1206.40,261.56M1206.40,261.56L1206.59,260.07M1206.59,260.07L1206.78,258.58M1206.78,258.58L1206.96,257.09M1206.96,257.09L1207.15,255.60M1207.15,255.60L1207.34,254.11M1207.34,254.11L1207.53,252.62M1207.53,252.62L1207.72,251.13M1207.72,251.13L1207.92,249.64M1207.92,249.64L1208.11,248.15M1208.11,248.15L1208.30,246.66M1208.30,246.66L1208.50,245.18M1208.50,245.18L1208.69,243.69M1208.69,243.69L1208.89,242.20M1208.89,242.20L1209.09,240.71M1209.09,240.71L1209.29,239.23M1209.29,239.23L1209.49,237.74M1209.49,237.74L1209.69,236.25M1209.69,236.25L1209.89,234.77M1209.89,234.77L1210.10,233.28M1210.10,233.28L1210.30,231.80M1210.30,231.80L1210.51,230.31M1210.51,230.31L1210.72,228.83M1210.72,228.83L1210.93,227.34M1210.93,227.34L1211.14,225.86M1211.14,225.86L1211.35,224.38M1211.35,224.38L1211.57,222.89M1211.57,222.89L1211.78,221.41M1211.78,221.41L1212.00,219.93M1212.00,219.93L1212.22,218.45M1212.22,218.45L1212.44,216.96M1212.44,216.96L1212.66,215.48M1212.66,215.48L1212.88,214.00M1212.88,214.00L1213.11,212.52M1213.11,212.52L1213.33,211.04M1213.33,211.04L1213.56,209.56M1213.56,209.56L1213.79,208.09M1213.79,208.09L1214.02,206.61M1214.02,206.61L1214.26,205.13M1214.26,205.13L1214.49,203.65M1214.49,203.65L1214.73,202.18M1214.73,202.18L1214.97,200.70M1214.97,200.70L1215.21,199.22M1215.21,199.22L1215.45,197.75M1215.45,197.75L1215.69,196.27M1215.69,196.27L1215.94,194.80M1215.94,194.80L1216.19,193.33M1216.19,193.33L1216.44,191.85M1216.44,191.85L1216.69,190.38M1216.69,190.38L1216.95,188.91M1216.95,188.91L1217.20,187.44M1217.20,187.44L1217.46,185.97M1217.46,185.97L1217.72,184.50M1217.72,184.50L1217.99,183.03M1217.99,183.03L1218.25,181.56M1218.25,181.56L1218.52,180.09M1218.52,180.09L1218.79,178.62M1218.79,178.62L1219.06,177.16M1219.06,177.16L1219.34,175.69M1219.34,175.69L1219.61,174.23M1219.61,174.23L1219.89,172.76M1219.89,172.76L1220.17,171.30M1220.17,171.30L1220.46,169.83M1220.46,169.83L1220.74,168.37M1220.74,168.37L1221.03,166.91M1221.03,166.91L1221.32,165.45M1221.32,165.45L1221.62,163.99M1221.62,163.99L1221.92,162.53M1221.92,162.53L1222.23,161.07M1222.23,161.07L1222.54,159.61M1222.54,159.61L1222.86,158.15M1222.86,158.15L1223.19,156.69M1223.19,156.69L1223.53,155.23M1223.53,155.23L1223.88,153.77M1223.88,153.77L1224.25,152.31M1224.25,152.31L1224.62,150.84M1224.62,150.84L1225.01,149.38M1278.14,197.49L1278.53,198.94M1278.53,198.94L1278.90,200.39M1278.90,200.39L1279.25,201.84M1279.25,201.84L1279.59,203.30M1279.59,203.30L1279.91,204.75M1279.91,204.75L1280.23,206.20M1280.23,206.20L1280.54,207.65M1280.54,207.65L1280.85,209.09M1280.85,209.09L1281.16,210.52M1281.16,210.52L1281.47,211.94M1281.47,211.94L1281.79,213.35M1281.79,213.35L1282.12,214.75M1282.12,214.75L1282.47,216.14M1282.47,216.14L1282.82,217.53M1282.82,217.53L1283.19,218.95M1283.19,218.95L1283.57,220.44M1283.57,220.44L1283.95,222.04M1283.95,222.04L1284.35,223.77M1284.35,223.77L1284.75,225.63M1313.28,265.26L1313.64,266.70M1313.64,266.70L1313.97,268.15M1313.97,268.15L1314.28,269.61M1314.28,269.61L1314.56,271.08M1314.56,271.08L1314.83,272.56M1314.83,272.56L1315.07,274.04M1315.07,274.04L1315.30,275.53M1315.30,275.53L1315.52,277.03M1315.52,277.03L1315.73,278.52M1315.73,278.52L1315.94,280.03M1315.94,280.03L1316.13,281.53M1316.13,281.53L1316.32,283.03M1316.32,283.03L1316.52,284.54M1316.52,284.54L1316.71,286.04M1316.71,286.04L1316.91,287.54M1316.91,287.54L1317.12,289.04M1317.12,289.04L1317.33,290.54M1317.33,290.54L1317.56,292.03M1317.56,292.03L1317.80,293.52M1317.80,293.52L1318.06,295.00M1318.06,295.00L1318.34,296.47M1318.34,296.47L1318.64,297.94M1318.64,297.94L1318.96,299.40M1318.96,299.40L1319.31,300.84M1319.31,300.84L1319.69,302.28" stroke="#ff3c3c" stroke-width="1.9" fill="none" stroke-linejoin="round" stroke-linecap="round"/>
<path d="M245.49,1008.79L246.16,1010.46M1060.86,908.19L1061.64,906.90M1061.64,906.90L1062.41,905.61M1062.41,905.61L1063.17,904.31M1063.17,904.31L1063.93,903.00M1063.93,903.00L1064.67,901.69M1064.67,901.69L1065.42,900.38M1065.42,900.38L1066.15,899.06M1066.15,899.06L1066.88,897.74M1066.88,897.74L1067.60,896.42M1067.60,896.42L1068.32,895.09M1068.32,895.09L1069.03,893.76M1069.03,893.76L1069.73,892.42M1069.73,892.42L1070.43,891.08M1070.43,891.08L1071.12,889.74M1071.12,889.74L1071.80,888.40M1071.80,888.40L1072.48,887.05M1072.48,887.05L1073.15,885.70M1073.15,885.70L1073.82,884.35M1073.82,884.35L1074.48,883.00M1074.48,883.00L1075.13,881.64M1075.13,881.64L1075.78,880.28M1075.78,880.28L1076.43,878.92M1168.87,423.73L1169.51,422.50M1179.12,413.68L1179.70,412.37M1182.54,401.41L1183.19,399.92M1199.03,408.89L1199.73,410.18M1199.73,410.18L1200.37,411.49M1299.91,801.09L1300.55,802.43M1300.55,802.43L1301.19,803.78M1301.19,803.78L1301.85,805.12M1301.85,805.12L1302.50,806.45M1302.50,806.45L1303.17,807.79M1303.17,807.79L1303.84,809.12M1303.84,809.12L1304.51,810.44M1304.51,810.44L1305.20,811.77M1305.20,811.77L1305.88,813.09M1305.88,813.09L1306.58,814.41M1306.58,814.41L1307.28,815.72M1307.28,815.72L1307.99,817.04M1307.99,817.04L1308.70,818.34M1308.70,818.34L1309.42,819.65M1309.42,819.65L1310.14,820.95M1310.14,820.95L1310.88,822.25M1310.88,822.25L1311.62,823.54M1311.62,823.54L1312.36,824.83M1312.36,824.83L1313.11,826.12M1313.11,826.12L1313.87,827.41M1313.87,827.41L1314.64,828.69M1314.64,828.69L1315.41,829.96" stroke="#3434ff" stroke-width="2.3" fill="none" stroke-linejoin="round" stroke-linecap="round"/><path d="M246.16,1010.46L247.00,1011.83M1041.72,935.00L1042.68,933.86M1042.68,933.86L1043.64,932.71M1043.64,932.71L1044.58,931.55M1044.58,931.55L1045.51,930.38M1045.51,930.38L1046.43,929.21M1046.43,929.21L1047.35,928.03M1047.35,928.03L1048.26,926.84M1048.26,926.84L1049.15,925.64M1049.15,925.64L1050.04,924.44M1050.04,924.44L1050.92,923.23M1050.92,923.23L1051.80,922.01M1051.80,922.01L1052.66,920.78M1052.66,920.78L1053.51,919.55M1053.51,919.55L1054.36,918.31M1054.36,918.31L1055.20,917.07M1055.20,917.07L1056.03,915.82M1056.03,915.82L1056.86,914.56M1056.86,914.56L1057.67,913.30M1057.67,913.30L1058.48,912.03M1058.48,912.03L1059.28,910.76M1059.28,910.76L1060.07,909.48M1060.07,909.48L1060.86,908.19M1169.51,422.50L1170.30,421.36M1178.37,414.87L1179.12,413.68M1183.19,399.92L1183.93,398.74M1196.48,405.28L1197.42,406.44M1197.42,406.44L1198.26,407.64M1198.26,407.64L1199.03,408.89M1315.41,829.96L1316.19,831.24M1316.19,831.24L1316.98,832.51M1316.98,832.51L1317.78,833.77M1317.78,833.77L1318.58,835.03M1318.58,835.03L1319.39,836.29M1319.39,836.29L1320.20,837.54M1320.20,837.54L1321.02,838.79M1321.02,838.79L1321.85,840.04M1321.85,840.04L1322.69,841.28M1322.69,841.28L1323.54,842.52M1323.54,842.52L1324.39,843.75M1324.39,843.75L1325.25,844.98M1325.25,844.98L1326.12,846.21M1326.12,846.21L1327.00,847.43M1327.00,847.43L1327.88,848.64M1327.88,848.64L1328.77,849.86M1328.77,849.86L1329.67,851.06M1329.67,851.06L1330.58,852.27M1330.58,852.27L1331.49,853.47M1331.49,853.47L1332.42,854.66M1332.42,854.66L1333.35,855.85M1333.35,855.85L1334.29,857.04M1334.29,857.04L1335.24,858.22M1335.24,858.22L1336.19,859.40M1336.19,859.40L1337.16,860.57M1337.16,860.57L1338.13,861.73M1338.13,861.73L1339.11,862.90" stroke="#3434ff" stroke-width="2.4" fill="none" stroke-linejoin="round" stroke-linecap="round"/><path d="M247.00,1011.83L247.99,1012.91M247.99,1012.91L249.12,1013.75M1013.28,961.18L1014.49,960.31M1014.49,960.31L1015.70,959.43M1015.70,959.43L1016.90,958.54M1016.90,958.54L1018.09,957.63M1018.09,957.63L1019.27,956.71M1019.27,956.71L1020.44,955.79M1020.44,955.79L1021.61,954.85M1021.61,954.85L1022.76,953.90M1022.76,953.90L1023.90,952.94M1023.90,952.94L1025.03,951.96M1025.03,951.96L1026.15,950.98M1026.15,950.98L1027.26,949.99M1027.26,949.99L1028.36,948.98M1028.36,948.98L1029.45,947.97M1029.45,947.97L1030.53,946.94M1030.53,946.94L1031.59,945.90M1031.59,945.90L1032.65,944.86M1032.65,944.86L1033.70,943.80M1033.70,943.80L1034.74,942.73M1034.74,942.73L1035.76,941.65M1035.76,941.65L1036.78,940.57M1036.78,940.57L1037.79,939.47M1037.79,939.47L1038.79,938.37M1038.79,938.37L1039.78,937.25M1039.78,937.25L1040.75,936.13M1040.75,936.13L1041.72,935.00M1170.30,421.36L1171.27,420.33M1171.27,420.33L1172.42,419.40M1172.42,419.40L1173.69,418.55M1173.69,418.55L1175.00,417.73M1175.00,417.73L1176.27,416.87M1176.27,416.87L1177.42,415.93M1177.42,415.93L1178.37,414.87M1183.93,398.74L1184.77,398.04M1191.70,401.23L1193.02,402.15M1193.02,402.15L1194.28,403.13M1194.28,403.13L1195.44,404.17M1195.44,404.17L1196.48,405.28M1339.11,862.90L1340.10,864.05M1340.10,864.05L1341.10,865.21M1341.10,865.21L1342.11,866.35M1342.11,866.35L1343.13,867.50M1343.13,867.50L1344.15,868.64M1344.15,868.64L1345.19,869.77" stroke="#3434ff" stroke-width="2.5" fill="none" stroke-linejoin="round" stroke-linecap="round"/><path d="M249.12,1013.75L250.36,1014.38M250.36,1014.38L251.71,1014.83M251.71,1014.83L253.12,1015.13M947.85,989.74L949.30,989.39M949.30,989.39L950.75,989.04M950.75,989.04L952.19,988.67M952.19,988.67L953.63,988.30M953.63,988.30L955.07,987.92M955.07,987.92L956.51,987.53M956.51,987.53L957.94,987.13M957.94,987.13L959.37,986.71M959.37,986.71L960.80,986.29M960.80,986.29L962.23,985.86M962.23,985.86L963.65,985.42M963.65,985.42L965.07,984.97M965.07,984.97L966.49,984.51M966.49,984.51L967.90,984.04M967.90,984.04L969.31,983.55M969.31,983.55L970.72,983.06M970.72,983.06L972.13,982.55M972.13,982.55L973.53,982.04M973.53,982.04L974.93,981.51M974.93,981.51L976.32,980.97M976.32,980.97L977.71,980.42M977.71,980.42L979.10,979.85M979.10,979.85L980.48,979.28M980.48,979.28L981.86,978.69M981.86,978.69L983.24,978.10M983.24,978.10L984.61,977.49M984.61,977.49L985.98,976.87M985.98,976.87L987.34,976.23M987.34,976.23L988.70,975.59M988.70,975.59L990.05,974.93M990.05,974.93L991.39,974.27M991.39,974.27L992.73,973.59M992.73,973.59L994.07,972.90M994.07,972.90L995.40,972.20M995.40,972.20L996.72,971.48M996.72,971.48L998.04,970.76M998.04,970.76L999.35,970.02M999.35,970.02L1000.65,969.28M1000.65,969.28L1001.95,968.52M1001.95,968.52L1003.24,967.75M1003.24,967.75L1004.52,966.97M1004.52,966.97L1005.79,966.18M1005.79,966.18L1007.06,965.37M1007.06,965.37L1008.32,964.56M1008.32,964.56L1009.57,963.73M1009.57,963.73L1010.82,962.89M1010.82,962.89L1012.05,962.04M1012.05,962.04L1013.28,961.18M1186.72,398.23L1187.84,398.84M1187.84,398.84L1189.06,399.57M1189.06,399.57L1190.36,400.37M1190.36,400.37L1191.70,401.23" stroke="#3434ff" stroke-width="2.6" fill="none" stroke-linejoin="round" stroke-linecap="round"/><path d="M253.12,1015.13L254.60,1015.31M254.60,1015.31L256.12,1015.42M256.12,1015.42L257.65,1015.48M257.65,1015.48L259.19,1015.52M259.19,1015.52L260.73,1015.56M260.73,1015.56L262.26,1015.58M262.26,1015.58L263.79,1015.60M263.79,1015.60L265.32,1015.62M265.32,1015.62L266.84,1015.62M266.84,1015.62L268.37,1015.62M268.37,1015.62L269.89,1015.61M269.89,1015.61L271.41,1015.60M271.41,1015.60L272.92,1015.58M272.92,1015.58L274.44,1015.56M274.44,1015.56L275.95,1015.53M275.95,1015.53L277.46,1015.49M277.46,1015.49L278.97,1015.45M278.97,1015.45L280.47,1015.41M280.47,1015.41L281.98,1015.36M281.98,1015.36L283.48,1015.30M283.48,1015.30L284.99,1015.25M284.99,1015.25L286.49,1015.18M286.49,1015.18L287.99,1015.12M287.99,1015.12L289.48,1015.05M289.48,1015.05L290.98,1014.98M290.98,1014.98L292.48,1014.90M292.48,1014.90L293.97,1014.82M293.97,1014.82L295.46,1014.74M295.46,1014.74L296.96,1014.66M296.96,1014.66L298.45,1014.58M298.45,1014.58L299.94,1014.49M299.94,1014.49L301.43,1014.40M301.43,1014.40L302.92,1014.31M302.92,1014.31L304.41,1014.22M304.41,1014.22L305.90,1014.13M305.90,1014.13L307.38,1014.04M307.38,1014.04L308.87,1013.94M308.87,1013.94L310.36,1013.85M310.36,1013.85L311.85,1013.76M311.85,1013.76L313.33,1013.66M313.33,1013.66L314.82,1013.57M314.82,1013.57L316.31,1013.48M316.31,1013.48L317.80,1013.38M317.80,1013.38L319.28,1013.29M319.28,1013.29L320.77,1013.21M320.77,1013.21L322.26,1013.12M322.26,1013.12L323.75,1013.03M323.75,1013.03L325.24,1012.94M325.24,1012.94L326.73,1012.86M326.73,1012.86L328.22,1012.78M328.22,1012.78L329.70,1012.69M329.70,1012.69L331.19,1012.61M331.19,1012.61L332.68,1012.53M332.68,1012.53L334.17,1012.45M334.17,1012.45L335.66,1012.37M335.66,1012.37L337.16,1012.30M337.16,1012.30L338.65,1012.22M338.65,1012.22L340.14,1012.15M340.14,1012.15L341.63,1012.07M341.63,1012.07L343.12,1012.00M343.12,1012.00L344.61,1011.93M344.61,1011.93L346.10,1011.86M346.10,1011.86L347.59,1011.79M347.59,1011.79L349.09,1011.72M349.09,1011.72L350.58,1011.65M350.58,1011.65L352.07,1011.59M352.07,1011.59L353.56,1011.52M353.56,1011.52L355.06,1011.46M355.06,1011.46L356.55,1011.39M356.55,1011.39L358.04,1011.33M358.04,1011.33L359.54,1011.27M359.54,1011.27L361.03,1011.21M361.03,1011.21L362.53,1011.15M362.53,1011.15L364.02,1011.09M364.02,1011.09L365.51,1011.03M365.51,1011.03L367.01,1010.98M367.01,1010.98L368.50,1010.92M368.50,1010.92L370.00,1010.87M370.00,1010.87L371.49,1010.81M371.49,1010.81L372.99,1010.76M372.99,1010.76L374.48,1010.71M374.48,1010.71L375.98,1010.66M375.98,1010.66L377.48,1010.61M377.48,1010.61L378.97,1010.56M378.97,1010.56L380.47,1010.51M380.47,1010.51L381.96,1010.46M381.96,1010.46L383.46,1010.41M383.46,1010.41L384.96,1010.37M384.96,1010.37L386.45,1010.32M386.45,1010.32L387.95,1010.28M387.95,1010.28L389.45,1010.23M389.45,1010.23L390.94,1010.19M390.94,1010.19L392.44,1010.15M392.44,1010.15L393.94,1010.11M393.94,1010.11L395.44,1010.07M395.44,1010.07L396.93,1010.03M396.93,1010.03L398.43,1009.99M398.43,1009.99L399.93,1009.95M399.93,1009.95L401.43,1009.91M401.43,1009.91L402.93,1009.88M402.93,1009.88L404.42,1009.84M404.42,1009.84L405.92,1009.81M405.92,1009.81L407.42,1009.77M407.42,1009.77L408.92,1009.74M408.92,1009.74L410.42,1009.71M410.42,1009.71L411.92,1009.67M411.92,1009.67L413.42,1009.64M413.42,1009.64L414.92,1009.61M414.92,1009.61L416.41,1009.58M416.41,1009.58L417.91,1009.55M417.91,1009.55L419.41,1009.52M419.41,1009.52L420.91,1009.49M420.91,1009.49L422.41,1009.47M422.41,1009.47L423.91,1009.44M423.91,1009.44L425.41,1009.41M425.41,1009.41L426.91,1009.39M426.91,1009.39L428.41,1009.36M428.41,1009.36L429.91,1009.34M429.91,1009.34L431.41,1009.31M431.41,1009.31L432.91,1009.29M432.91,1009.29L434.41,1009.27M434.41,1009.27L435.91,1009.25M435.91,1009.25L437.42,1009.22M437.42,1009.22L438.92,1009.20M438.92,1009.20L440.42,1009.18M440.42,1009.18L441.92,1009.16M441.92,1009.16L443.42,1009.14M443.42,1009.14L444.92,1009.12M444.92,1009.12L446.42,1009.11M446.42,1009.11L447.92,1009.09M447.92,1009.09L449.42,1009.07M449.42,1009.07L450.92,1009.05M450.92,1009.05L452.42,1009.04M452.42,1009.04L453.93,1009.02M453.93,1009.02L455.43,1009.01M455.43,1009.01L456.93,1008.99M456.93,1008.99L458.43,1008.98M458.43,1008.98L459.93,1008.96M459.93,1008.96L461.43,1008.95M461.43,1008.95L462.94,1008.93M462.94,1008.93L464.44,1008.92M464.44,1008.92L465.94,1008.91M465.94,1008.91L467.44,1008.90M467.44,1008.90L468.94,1008.89M468.94,1008.89L470.44,1008.87M470.44,1008.87L471.95,1008.86M471.95,1008.86L473.45,1008.85M473.45,1008.85L474.95,1008.84M474.95,1008.84L476.45,1008.83M476.45,1008.83L477.95,1008.82M477.95,1008.82L479.46,1008.82M479.46,1008.82L480.96,1008.81M480.96,1008.81L482.46,1008.80M482.46,1008.80L483.96,1008.79M483.96,1008.79L485.46,1008.78M485.46,1008.78L486.97,1008.78M486.97,1008.78L488.47,1008.77M488.47,1008.77L489.97,1008.76M489.97,1008.76L491.47,1008.75M491.47,1008.75L492.97,1008.75M492.97,1008.75L494.48,1008.74M494.48,1008.74L495.98,1008.74M495.98,1008.74L497.48,1008.73M497.48,1008.73L498.98,1008.73M498.98,1008.73L500.48,1008.72M500.48,1008.72L501.99,1008.72M501.99,1008.72L503.49,1008.71M503.49,1008.71L504.99,1008.71M504.99,1008.71L506.49,1008.70M506.49,1008.70L507.99,1008.70M507.99,1008.70L509.50,1008.70M509.50,1008.70L511.00,1008.69M511.00,1008.69L512.50,1008.69M512.50,1008.69L514.00,1008.68M514.00,1008.68L515.50,1008.68M515.50,1008.68L517.01,1008.68M517.01,1008.68L518.51,1008.68M518.51,1008.68L520.01,1008.67M520.01,1008.67L521.51,1008.67M521.51,1008.67L523.01,1008.67M523.01,1008.67L524.51,1008.67M524.51,1008.67L526.02,1008.66M526.02,1008.66L527.52,1008.66M527.52,1008.66L529.02,1008.66M529.02,1008.66L530.52,1008.66M530.52,1008.66L532.02,1008.65M532.02,1008.65L533.52,1008.65M533.52,1008.65L535.02,1008.65M535.02,1008.65L536.53,1008.65M536.53,1008.65L538.03,1008.65M538.03,1008.65L539.53,1008.65M539.53,1008.65L541.03,1008.64M541.03,1008.64L542.53,1008.64M542.53,1008.64L544.03,1008.64M544.03,1008.64L545.53,1008.64M545.53,1008.64L547.03,1008.64M547.03,1008.64L548.53,1008.64M548.53,1008.64L550.03,1008.63M550.03,1008.63L551.53,1008.63M551.53,1008.63L553.03,1008.63M553.03,1008.63L554.53,1008.63M554.53,1008.63L556.03,1008.63M556.03,1008.63L557.53,1008.62M557.53,1008.62L559.04,1008.62M559.04,1008.62L560.54,1008.62M560.54,1008.62L562.04,1008.62M562.04,1008.62L563.53,1008.62M563.53,1008.62L565.03,1008.61M565.03,1008.61L566.53,1008.61M566.53,1008.61L568.03,1008.61M568.03,1008.61L569.53,1008.61M569.53,1008.61L571.03,1008.60M571.03,1008.60L572.53,1008.60M572.53,1008.60L574.03,1008.60M574.03,1008.60L575.53,1008.59M575.53,1008.59L577.03,1008.59M577.03,1008.59L578.53,1008.59M578.53,1008.59L580.03,1008.58M580.03,1008.58L581.53,1008.58M581.53,1008.58L583.03,1008.58M583.03,1008.58L584.53,1008.57M584.53,1008.57L586.02,1008.57M586.02,1008.57L587.52,1008.56M587.52,1008.56L589.02,1008.56M589.02,1008.56L590.52,1008.56M590.52,1008.56L592.02,1008.55M592.02,1008.55L593.52,1008.55M593.52,1008.55L595.02,1008.54M595.02,1008.54L596.51,1008.54M596.51,1008.54L598.01,1008.53M598.01,1008.53L599.51,1008.53M599.51,1008.53L601.01,1008.52M601.01,1008.52L602.51,1008.51M602.51,1008.51L604.01,1008.51M604.01,1008.51L605.50,1008.50M605.50,1008.50L607.00,1008.50M607.00,1008.50L608.50,1008.49M608.50,1008.49L610.00,1008.48M610.00,1008.48L611.50,1008.48M611.50,1008.48L612.99,1008.47M612.99,1008.47L614.49,1008.46M614.49,1008.46L615.99,1008.45M615.99,1008.45L617.49,1008.44M617.49,1008.44L618.98,1008.44M618.98,1008.44L620.48,1008.43M620.48,1008.43L621.98,1008.42M621.98,1008.42L623.48,1008.41M623.48,1008.41L624.97,1008.40M624.97,1008.40L626.47,1008.39M626.47,1008.39L627.97,1008.38M627.97,1008.38L629.47,1008.37M629.47,1008.37L630.96,1008.36M630.96,1008.36L632.46,1008.35M632.46,1008.35L633.96,1008.34M633.96,1008.34L635.46,1008.33M635.46,1008.33L636.95,1008.32M636.95,1008.32L638.45,1008.30M638.45,1008.30L639.95,1008.29M639.95,1008.29L641.44,1008.28M641.44,1008.28L642.94,1008.27M642.94,1008.27L644.44,1008.25M644.44,1008.25L645.93,1008.24M645.93,1008.24L647.43,1008.23M647.43,1008.23L648.93,1008.21M648.93,1008.21L650.43,1008.20M650.43,1008.20L651.92,1008.18M651.92,1008.18L653.42,1008.17M653.42,1008.17L654.92,1008.15M654.92,1008.15L656.41,1008.14M656.41,1008.14L657.91,1008.12M657.91,1008.12L659.41,1008.10M659.41,1008.10L660.90,1008.09M660.90,1008.09L662.40,1008.07M662.40,1008.07L663.90,1008.05M663.90,1008.05L665.39,1008.03M665.39,1008.03L666.89,1008.01M666.89,1008.01L668.38,1008.00M668.38,1008.00L669.88,1007.98M669.88,1007.98L671.38,1007.96M671.38,1007.96L672.87,1007.94M672.87,1007.94L674.37,1007.92M674.37,1007.92L675.87,1007.89M675.87,1007.89L677.36,1007.87M677.36,1007.87L678.86,1007.85M678.86,1007.85L680.36,1007.83M680.36,1007.83L681.85,1007.81M681.85,1007.81L683.35,1007.78M683.35,1007.78L684.85,1007.76M684.85,1007.76L686.34,1007.73M686.34,1007.73L687.84,1007.71M687.84,1007.71L689.33,1007.69M689.33,1007.69L690.83,1007.66M690.83,1007.66L692.33,1007.63M692.33,1007.63L693.82,1007.61M693.82,1007.61L695.32,1007.58M695.32,1007.58L696.82,1007.55M696.82,1007.55L698.31,1007.52M698.31,1007.52L699.81,1007.50M699.81,1007.50L701.30,1007.47M701.30,1007.47L702.80,1007.44M702.80,1007.44L704.30,1007.41M704.30,1007.41L705.79,1007.38M705.79,1007.38L707.29,1007.35M707.29,1007.35L708.79,1007.31M708.79,1007.31L710.28,1007.28M710.28,1007.28L711.78,1007.25M711.78,1007.25L713.27,1007.22M713.27,1007.22L714.77,1007.18M714.77,1007.18L716.27,1007.15M716.27,1007.15L717.76,1007.11M717.76,1007.11L719.26,1007.08M719.26,1007.08L720.76,1007.04M720.76,1007.04L722.25,1007.01M722.25,1007.01L723.75,1006.97M723.75,1006.97L725.24,1006.93M725.24,1006.93L726.74,1006.89M726.74,1006.89L728.24,1006.85M728.24,1006.85L729.73,1006.82M729.73,1006.82L731.23,1006.78M731.23,1006.78L732.73,1006.73M732.73,1006.73L734.22,1006.69M734.22,1006.69L735.72,1006.65M735.72,1006.65L737.21,1006.61M737.21,1006.61L738.71,1006.57M738.71,1006.57L740.21,1006.52M740.21,1006.52L741.70,1006.48M741.70,1006.48L743.20,1006.43M743.20,1006.43L744.70,1006.39M744.70,1006.39L746.19,1006.34M746.19,1006.34L747.69,1006.30M747.69,1006.30L749.19,1006.25M749.19,1006.25L750.68,1006.20M750.68,1006.20L752.18,1006.15M752.18,1006.15L753.67,1006.10M753.67,1006.10L755.17,1006.05M755.17,1006.05L756.67,1006.00M756.67,1006.00L758.16,1005.95M758.16,1005.95L759.66,1005.90M759.66,1005.90L761.16,1005.84M761.16,1005.84L762.65,1005.79M762.65,1005.79L764.15,1005.74M764.15,1005.74L765.65,1005.68M765.65,1005.68L767.14,1005.63M767.14,1005.63L768.64,1005.57M768.64,1005.57L770.14,1005.51M770.14,1005.51L771.64,1005.45M771.64,1005.45L773.13,1005.40M773.13,1005.40L774.63,1005.34M774.63,1005.34L776.13,1005.28M776.13,1005.28L777.62,1005.22M777.62,1005.22L779.12,1005.15M779.12,1005.15L780.62,1005.09M780.62,1005.09L782.11,1005.03M782.11,1005.03L783.61,1004.97M783.61,1004.97L785.11,1004.90M785.11,1004.90L786.61,1004.84M786.61,1004.84L788.10,1004.77M788.10,1004.77L789.60,1004.70M789.60,1004.70L791.10,1004.64M791.10,1004.64L792.60,1004.57M792.60,1004.57L794.09,1004.50M794.09,1004.50L795.59,1004.43M795.59,1004.43L797.09,1004.36M797.09,1004.36L798.59,1004.29M798.59,1004.29L800.08,1004.21M800.08,1004.21L801.58,1004.14M801.58,1004.14L803.08,1004.07M803.08,1004.07L804.58,1003.99M804.58,1003.99L806.07,1003.92M806.07,1003.92L807.57,1003.84M807.57,1003.84L809.07,1003.76M809.07,1003.76L810.57,1003.68M810.57,1003.68L812.07,1003.60M812.07,1003.60L813.56,1003.52M813.56,1003.52L815.06,1003.44M815.06,1003.44L816.56,1003.36M816.56,1003.36L818.06,1003.28M818.06,1003.28L819.56,1003.20M819.56,1003.20L821.05,1003.11M821.05,1003.11L822.55,1003.03M822.55,1003.03L824.05,1002.94M824.05,1002.94L825.55,1002.85M825.55,1002.85L827.05,1002.77M827.05,1002.77L828.55,1002.68M828.55,1002.68L830.05,1002.59M830.05,1002.59L831.54,1002.50M831.54,1002.50L833.04,1002.41M833.04,1002.41L834.54,1002.31M834.54,1002.31L836.04,1002.22M836.04,1002.22L837.54,1002.13M837.54,1002.13L839.04,1002.03M839.04,1002.03L840.54,1001.94M840.54,1001.94L842.04,1001.84M842.04,1001.84L843.54,1001.74M843.54,1001.74L845.04,1001.64M845.04,1001.64L846.53,1001.54M846.53,1001.54L848.03,1001.44M848.03,1001.44L849.53,1001.34M849.53,1001.34L851.03,1001.24M851.03,1001.24L852.53,1001.13M852.53,1001.13L854.03,1001.03M854.03,1001.03L855.53,1000.92M855.53,1000.92L857.03,1000.82M857.03,1000.82L858.53,1000.71M858.53,1000.71L860.03,1000.60M860.03,1000.60L861.53,1000.49M861.53,1000.49L863.03,1000.38M863.03,1000.38L864.53,1000.27M864.53,1000.27L866.03,1000.16M866.03,1000.16L867.53,1000.04M867.53,1000.04L869.03,999.93M869.03,999.93L870.53,999.81M870.53,999.81L872.04,999.69M872.04,999.69L873.54,999.58M873.54,999.58L875.04,999.46M875.04,999.46L876.54,999.34M876.54,999.34L878.04,999.22M878.04,999.22L879.54,999.10M879.54,999.10L881.04,998.97M881.04,998.97L882.54,998.85M882.54,998.85L884.04,998.72M884.04,998.72L885.54,998.60M885.54,998.60L887.05,998.47M887.05,998.47L888.55,998.34M888.55,998.34L890.05,998.20M890.05,998.20L891.55,998.07M891.55,998.07L893.05,997.93M893.05,997.93L894.55,997.79M894.55,997.79L896.05,997.65M896.05,997.65L897.55,997.51M897.55,997.51L899.04,997.36M899.04,997.36L900.54,997.21M900.54,997.21L902.04,997.05M902.04,997.05L903.54,996.90M903.54,996.90L905.03,996.73M905.03,996.73L906.53,996.57M906.53,996.57L908.02,996.40M908.02,996.40L909.51,996.23M909.51,996.23L911.01,996.05M911.01,996.05L912.50,995.87M912.50,995.87L913.99,995.68M913.99,995.68L915.48,995.49M915.48,995.49L916.96,995.29M916.96,995.29L918.45,995.09M918.45,995.09L919.94,994.88M919.94,994.88L921.42,994.67M921.42,994.67L922.90,994.45M922.90,994.45L924.38,994.23M924.38,994.23L925.86,994.00M925.86,994.00L927.34,993.77M927.34,993.77L928.82,993.52M928.82,993.52L930.29,993.28M930.29,993.28L931.77,993.02M931.77,993.02L933.24,992.76M933.24,992.76L934.71,992.49M934.71,992.49L936.18,992.22M936.18,992.22L937.64,991.93M937.64,991.93L939.11,991.64M939.11,991.64L940.57,991.35M940.57,991.35L942.03,991.04M942.03,991.04L943.49,990.73M943.49,990.73L944.94,990.41M944.94,990.41L946.40,990.08M946.40,990.08L947.85,989.74M1184.77,398.04L1185.70,397.92M1185.70,397.92L1186.72,398.23" stroke="#3434ff" stroke-width="2.7" fill="none" stroke-linejoin="round" stroke-linecap="round"/><path d="M1076.43,878.92L1077.06,877.56M1077.06,877.56L1077.70,876.19M1077.70,876.19L1078.32,874.83M1078.32,874.83L1078.95,873.46M1078.95,873.46L1079.56,872.09M1079.56,872.09L1080.17,870.72M1080.17,870.72L1080.78,869.34M1080.78,869.34L1081.38,867.97M1081.38,867.97L1081.98,866.59M1081.98,866.59L1082.57,865.21M1082.57,865.21L1083.15,863.83M1083.15,863.83L1083.74,862.45M1083.74,862.45L1084.31,861.06M1084.31,861.06L1084.88,859.68M1084.88,859.68L1085.45,858.29M1085.45,858.29L1086.01,856.90M1086.01,856.90L1086.57,855.51M1086.57,855.51L1087.12,854.12M1087.12,854.12L1087.67,852.72M1087.67,852.72L1088.22,851.33M1168.37,425.04L1168.87,423.73M1200.37,411.49L1200.97,412.83M1200.97,412.83L1201.53,414.18M1201.53,414.18L1202.07,415.54M1202.07,415.54L1202.59,416.91M1288.74,775.02L1289.29,776.41M1289.29,776.41L1289.83,777.80M1289.83,777.80L1290.39,779.19M1290.39,779.19L1290.94,780.58M1290.94,780.58L1291.50,781.96M1291.50,781.96L1292.07,783.35M1292.07,783.35L1292.64,784.73M1292.64,784.73L1293.22,786.10M1293.22,786.10L1293.80,787.48M1293.80,787.48L1294.39,788.85M1294.39,788.85L1294.98,790.22M1294.98,790.22L1295.58,791.59M1295.58,791.59L1296.18,792.95M1296.18,792.95L1296.79,794.32M1296.79,794.32L1297.40,795.68M1297.40,795.68L1298.02,797.03M1298.02,797.03L1298.64,798.39M1298.64,798.39L1299.27,799.74M1299.27,799.74L1299.91,801.09" stroke="#3434ff" stroke-width="2.2" fill="none" stroke-linejoin="round" stroke-linecap="round"/><path d="M1088.22,851.33L1088.75,849.93M1088.75,849.93L1089.29,848.53M1089.29,848.53L1089.82,847.13M1089.82,847.13L1090.35,845.73M1090.35,845.73L1090.87,844.32M1090.87,844.32L1091.39,842.92M1091.39,842.92L1091.90,841.51M1091.90,841.51L1092.41,840.11M1092.41,840.11L1092.92,838.70M1092.92,838.70L1093.42,837.29M1093.42,837.29L1093.92,835.88M1093.92,835.88L1094.42,834.46M1094.42,834.46L1094.91,833.05M1094.91,833.05L1095.39,831.63M1095.39,831.63L1095.88,830.22M1095.88,830.22L1096.36,828.80M1096.36,828.80L1096.84,827.38M1096.84,827.38L1097.31,825.96M1097.31,825.96L1097.78,824.54M1097.78,824.54L1098.25,823.12M1179.70,412.37L1180.17,410.97M1182.00,403.04L1182.54,401.41M1202.59,416.91L1203.11,418.29M1203.11,418.29L1203.62,419.67M1203.62,419.67L1204.11,421.06M1204.11,421.06L1204.60,422.45M1204.60,422.45L1205.07,423.85M1205.07,423.85L1205.53,425.25M1279.21,748.19L1279.68,749.62M1279.68,749.62L1280.15,751.04M1280.15,751.04L1280.63,752.47M1280.63,752.47L1281.10,753.89M1281.10,753.89L1281.59,755.31M1281.59,755.31L1282.07,756.73M1282.07,756.73L1282.56,758.15M1282.56,758.15L1283.05,759.56M1283.05,759.56L1283.55,760.98M1283.55,760.98L1284.05,762.39M1284.05,762.39L1284.55,763.80M1284.55,763.80L1285.06,765.21M1285.06,765.21L1285.58,766.62M1285.58,766.62L1286.09,768.02M1286.09,768.02L1286.61,769.43M1286.61,769.43L1287.14,770.83M1287.14,770.83L1287.67,772.23M1287.67,772.23L1288.20,773.62M1288.20,773.62L1288.74,775.02" stroke="#3434ff" stroke-width="2.1" fill="none" stroke-linejoin="round" stroke-linecap="round"/><path d="M1098.25,823.12L1098.71,821.70M1098.71,821.70L1099.17,820.27M1099.17,820.27L1099.63,818.85M1099.63,818.85L1100.08,817.42M1100.08,817.42L1100.53,816.00M1100.53,816.00L1100.98,814.57M1100.98,814.57L1101.42,813.14M1101.42,813.14L1101.87,811.71M1101.87,811.71L1102.31,810.28M1102.31,810.28L1102.74,808.85M1102.74,808.85L1103.18,807.42M1103.18,807.42L1103.61,805.98M1103.61,805.98L1104.03,804.55M1104.03,804.55L1104.46,803.12M1104.46,803.12L1104.88,801.68M1104.88,801.68L1105.30,800.25M1105.30,800.25L1105.72,798.81M1105.72,798.81L1106.14,797.37M1106.14,797.37L1106.55,795.93M1106.55,795.93L1106.96,794.49M1167.97,426.42L1168.37,425.04M1180.17,410.97L1180.55,409.48M1181.57,404.69L1182.00,403.04M1205.53,425.25L1205.99,426.66M1205.99,426.66L1206.44,428.07M1206.44,428.07L1206.87,429.48M1206.87,429.48L1207.30,430.90M1207.30,430.90L1207.72,432.33M1207.72,432.33L1208.13,433.75M1270.51,719.42L1270.92,720.87M1270.92,720.87L1271.33,722.32M1271.33,722.32L1271.74,723.76M1271.74,723.76L1272.16,725.21M1272.16,725.21L1272.58,726.65M1272.58,726.65L1273.00,728.09M1273.00,728.09L1273.43,729.53M1273.43,729.53L1273.86,730.98M1273.86,730.98L1274.29,732.42M1274.29,732.42L1274.72,733.86M1274.72,733.86L1275.16,735.29M1275.16,735.29L1275.59,736.73M1275.59,736.73L1276.04,738.17M1276.04,738.17L1276.48,739.60M1276.48,739.60L1276.93,741.04M1276.93,741.04L1277.38,742.47M1277.38,742.47L1277.83,743.90M1277.83,743.90L1278.29,745.33M1278.29,745.33L1278.75,746.76M1278.75,746.76L1279.21,748.19" stroke="#3434ff" stroke-width="2.0" fill="none" stroke-linejoin="round" stroke-linecap="round"/><path d="M1106.96,794.49L1107.36,793.05M1107.36,793.05L1107.77,791.61M1107.77,791.61L1108.17,790.17M1108.17,790.17L1108.57,788.73M1108.57,788.73L1108.97,787.29M1108.97,787.29L1109.36,785.84M1109.36,785.84L1109.75,784.40M1109.75,784.40L1110.14,782.95M1110.14,782.95L1110.53,781.51M1110.53,781.51L1110.92,780.06M1110.92,780.06L1111.30,778.62M1111.30,778.62L1111.68,777.17M1111.68,777.17L1112.05,775.72M1112.05,775.72L1112.43,774.27M1112.43,774.27L1112.80,772.82M1112.80,772.82L1113.17,771.37M1113.17,771.37L1113.54,769.92M1113.54,769.92L1113.91,768.47M1113.91,768.47L1114.27,767.02M1208.13,433.75L1208.54,435.19M1208.54,435.19L1208.93,436.62M1208.93,436.62L1209.32,438.06M1209.32,438.06L1209.70,439.50M1209.70,439.50L1210.08,440.95M1210.08,440.95L1210.45,442.39M1260.12,680.25L1260.48,681.70M1260.48,681.70L1260.85,683.15M1260.85,683.15L1261.22,684.61M1261.22,684.61L1261.58,686.06M1261.58,686.06L1261.95,687.51M1261.95,687.51L1262.33,688.97M1262.33,688.97L1262.70,690.42M1262.70,690.42L1263.07,691.87M1263.07,691.87L1263.45,693.32M1263.45,693.32L1263.83,694.77M1263.83,694.77L1264.21,696.23M1264.21,696.23L1264.59,697.68M1264.59,697.68L1264.97,699.13M1264.97,699.13L1265.36,700.58M1265.36,700.58L1265.74,702.03M1265.74,702.03L1266.13,703.48M1266.13,703.48L1266.52,704.93M1266.52,704.93L1266.91,706.38M1266.91,706.38L1267.30,707.83M1267.30,707.83L1267.69,709.28M1267.69,709.28L1268.09,710.73M1268.09,710.73L1268.49,712.18M1268.49,712.18L1268.89,713.63M1268.89,713.63L1269.29,715.08M1269.29,715.08L1269.69,716.53M1269.69,716.53L1270.10,717.98M1270.10,717.98L1270.51,719.42" stroke="#3434ff" stroke-width="1.9" fill="none" stroke-linejoin="round" stroke-linecap="round"/><path d="M1114.27,767.02L1114.63,765.56M1114.63,765.56L1114.99,764.11M1114.99,764.11L1115.35,762.66M1115.35,762.66L1115.70,761.20M1115.70,761.20L1116.05,759.75M1116.05,759.75L1116.40,758.29M1116.40,758.29L1116.75,756.83M1116.75,756.83L1117.10,755.38M1117.10,755.38L1117.44,753.92M1117.44,753.92L1117.78,752.46M1117.78,752.46L1118.12,751.00M1118.12,751.00L1118.46,749.54M1118.46,749.54L1118.79,748.08M1118.79,748.08L1119.13,746.62M1119.13,746.62L1119.46,745.16M1119.46,745.16L1119.79,743.70M1119.79,743.70L1120.11,742.24M1120.11,742.24L1120.44,740.77M1120.44,740.77L1120.76,739.31M1120.76,739.31L1121.08,737.85M1121.08,737.85L1121.40,736.38M1121.40,736.38L1121.72,734.92M1121.72,734.92L1122.04,733.45M1122.04,733.45L1122.35,731.99M1122.35,731.99L1122.66,730.52M1122.66,730.52L1122.97,729.05M1122.97,729.05L1123.28,727.58M1123.28,727.58L1123.58,726.12M1123.58,726.12L1123.89,724.65M1123.89,724.65L1124.19,723.18M1124.19,723.18L1124.49,721.71M1124.49,721.71L1124.79,720.24M1124.79,720.24L1125.09,718.77M1125.09,718.77L1125.38,717.30M1125.38,717.30L1125.68,715.83M1125.68,715.83L1125.97,714.36M1125.97,714.36L1126.26,712.89M1126.26,712.89L1126.55,711.42M1126.55,711.42L1126.83,709.94M1126.83,709.94L1127.12,708.47M1127.12,708.47L1127.40,707.00M1127.40,707.00L1127.69,705.52M1127.69,705.52L1127.97,704.05M1127.97,704.05L1128.25,702.57M1128.25,702.57L1128.52,701.10M1128.52,701.10L1128.80,699.62M1128.80,699.62L1129.07,698.15M1129.07,698.15L1129.35,696.67M1129.35,696.67L1129.62,695.20M1129.62,695.20L1129.89,693.72M1129.89,693.72L1130.16,692.24M1130.16,692.24L1130.42,690.77M1130.42,690.77L1130.69,689.29M1130.69,689.29L1130.95,687.81M1130.95,687.81L1131.22,686.33M1131.22,686.33L1131.48,684.86M1131.48,684.86L1131.74,683.38M1131.74,683.38L1132.00,681.90M1132.00,681.90L1132.26,680.42M1132.26,680.42L1132.51,678.94M1132.51,678.94L1132.77,677.46M1132.77,677.46L1133.02,675.98M1133.02,675.98L1133.27,674.50M1133.27,674.50L1133.53,673.02M1133.53,673.02L1133.78,671.54M1133.78,671.54L1134.02,670.06M1134.02,670.06L1134.27,668.58M1134.27,668.58L1134.52,667.09M1134.52,667.09L1134.76,665.61M1134.76,665.61L1135.01,664.13M1135.01,664.13L1135.25,662.65M1135.25,662.65L1135.49,661.17M1135.49,661.17L1135.73,659.68M1135.73,659.68L1135.97,658.20M1135.97,658.20L1136.21,656.72M1136.21,656.72L1136.45,655.24M1136.45,655.24L1136.69,653.75M1136.69,653.75L1136.92,652.27M1136.92,652.27L1137.16,650.79M1137.16,650.79L1137.39,649.30M1137.39,649.30L1137.63,647.82M1137.63,647.82L1137.86,646.34M1137.86,646.34L1138.09,644.85M1138.09,644.85L1138.32,643.37M1138.32,643.37L1138.55,641.88M1138.55,641.88L1138.78,640.40M1138.78,640.40L1139.00,638.91M1139.00,638.91L1139.23,637.43M1139.23,637.43L1139.46,635.95M1139.46,635.95L1139.68,634.46M1139.68,634.46L1139.91,632.98M1139.91,632.98L1140.13,631.49M1140.13,631.49L1140.35,630.01M1140.35,630.01L1140.57,628.52M1140.57,628.52L1140.80,627.04M1140.80,627.04L1141.02,625.55M1141.02,625.55L1141.24,624.07M1141.24,624.07L1141.46,622.58M1141.46,622.58L1141.67,621.10M1141.67,621.10L1141.89,619.61M1141.89,619.61L1142.11,618.13M1142.11,618.13L1142.33,616.64M1142.33,616.64L1142.54,615.16M1142.54,615.16L1142.76,613.67M1142.76,613.67L1142.97,612.19M1142.97,612.19L1143.19,610.70M1143.19,610.70L1143.40,609.22M1143.40,609.22L1143.62,607.73M1143.62,607.73L1143.83,606.25M1143.83,606.25L1144.04,604.76M1144.04,604.76L1144.25,603.28M1144.25,603.28L1144.46,601.79M1144.46,601.79L1144.68,600.31M1144.68,600.31L1144.89,598.82M1144.89,598.82L1145.10,597.34M1145.10,597.34L1145.31,595.85M1145.31,595.85L1145.52,594.37M1145.52,594.37L1145.73,592.88M1145.73,592.88L1145.93,591.40M1145.93,591.40L1146.14,589.91M1146.14,589.91L1146.35,588.43M1146.35,588.43L1146.56,586.95M1146.56,586.95L1146.77,585.46M1146.77,585.46L1146.98,583.98M1146.98,583.98L1147.18,582.49M1147.18,582.49L1147.39,581.01M1147.39,581.01L1147.60,579.53M1147.60,579.53L1147.80,578.04M1147.80,578.04L1148.01,576.56M1148.01,576.56L1148.22,575.08M1148.22,575.08L1148.42,573.60M1148.42,573.60L1148.63,572.11M1148.63,572.11L1148.84,570.63M1148.84,570.63L1149.04,569.15M1149.04,569.15L1149.25,567.67M1149.25,567.67L1149.45,566.19M1149.45,566.19L1149.66,564.70M1149.66,564.70L1149.87,563.22M1149.87,563.22L1150.07,561.74M1150.07,561.74L1150.28,560.26M1150.28,560.26L1150.48,558.78M1150.48,558.78L1150.69,557.30M1150.69,557.30L1150.90,555.82M1150.90,555.82L1151.10,554.34M1151.10,554.34L1151.31,552.86M1151.31,552.86L1151.51,551.38M1151.51,551.38L1151.72,549.90M1151.72,549.90L1151.92,548.42M1151.92,548.42L1152.13,546.94M1152.13,546.94L1152.33,545.46M1152.33,545.46L1152.54,543.98M1152.54,543.98L1152.74,542.50M1152.74,542.50L1152.95,541.02M1152.95,541.02L1153.15,539.54M1153.15,539.54L1153.36,538.06M1153.36,538.06L1153.56,536.58M1153.56,536.58L1153.77,535.10M1153.77,535.10L1153.97,533.62M1153.97,533.62L1154.18,532.14M1154.18,532.14L1154.38,530.66M1154.38,530.66L1154.58,529.18M1154.58,529.18L1154.79,527.70M1154.79,527.70L1154.99,526.22M1154.99,526.22L1155.19,524.74M1155.19,524.74L1155.39,523.26M1155.39,523.26L1155.60,521.78M1155.60,521.78L1155.80,520.30M1155.80,520.30L1156.00,518.82M1156.00,518.82L1156.20,517.34M1156.20,517.34L1156.41,515.86M1156.41,515.86L1156.61,514.38M1156.61,514.38L1156.81,512.90M1156.81,512.90L1157.01,511.42M1157.01,511.42L1157.21,509.94M1157.21,509.94L1157.41,508.46M1157.41,508.46L1157.61,506.97M1157.61,506.97L1157.81,505.49M1157.81,505.49L1158.01,504.01M1158.01,504.01L1158.21,502.53M1158.21,502.53L1158.40,501.04M1158.40,501.04L1158.60,499.56M1158.60,499.56L1158.80,498.08M1158.80,498.08L1159.00,496.59M1159.00,496.59L1159.20,495.11M1159.20,495.11L1159.39,493.62M1159.39,493.62L1159.59,492.14M1159.59,492.14L1159.79,490.65M1159.79,490.65L1159.98,489.17M1159.98,489.17L1160.18,487.68M1160.18,487.68L1160.37,486.20M1160.37,486.20L1160.57,484.71M1160.57,484.71L1160.76,483.22M1160.76,483.22L1160.95,481.73M1160.95,481.73L1161.15,480.25M1161.15,480.25L1161.34,478.76M1161.34,478.76L1161.53,477.27M1161.53,477.27L1161.72,475.78M1161.72,475.78L1161.91,474.29M1161.91,474.29L1162.11,472.80M1162.11,472.80L1162.30,471.31M1162.30,471.31L1162.49,469.82M1162.49,469.82L1162.68,468.32M1162.68,468.32L1162.86,466.83M1162.86,466.83L1163.05,465.34M1163.05,465.34L1163.24,463.84M1163.24,463.84L1163.43,462.35M1163.43,462.35L1163.61,460.86M1163.61,460.86L1163.80,459.36M1163.80,459.36L1163.99,457.86M1163.99,457.86L1164.17,456.37M1164.17,456.37L1164.36,454.87M1164.36,454.87L1164.54,453.37M1164.54,453.37L1164.72,451.87M1164.72,451.87L1164.91,450.37M1164.91,450.37L1165.09,448.87M1165.09,448.87L1165.27,447.37M1165.27,447.37L1165.45,445.87M1165.45,445.87L1165.63,444.37M1165.63,444.37L1165.81,442.87M1165.81,442.87L1165.99,441.36M1165.99,441.36L1166.17,439.86M1166.17,439.86L1166.35,438.35M1166.35,438.35L1166.53,436.85M1166.53,436.85L1166.70,435.34M1166.70,435.34L1166.88,433.83M1166.88,433.83L1167.05,432.32M1167.05,432.32L1167.23,430.82M1167.23,430.82L1167.43,429.32M1167.43,429.32L1167.67,427.85M1167.67,427.85L1167.97,426.42M1180.55,409.48L1180.88,407.93M1180.88,407.93L1181.21,406.32M1181.21,406.32L1181.57,404.69M1210.45,442.39L1210.81,443.85M1210.81,443.85L1211.16,445.30M1211.16,445.30L1211.51,446.76M1211.51,446.76L1211.86,448.22M1211.86,448.22L1212.20,449.68M1212.20,449.68L1212.53,451.14M1212.53,451.14L1212.86,452.61M1212.86,452.61L1213.18,454.08M1213.18,454.08L1213.50,455.55M1213.50,455.55L1213.82,457.02M1213.82,457.02L1214.13,458.49M1214.13,458.49L1214.44,459.97M1214.44,459.97L1214.75,461.44M1214.75,461.44L1215.05,462.92M1215.05,462.92L1215.35,464.40M1215.35,464.40L1215.65,465.88M1215.65,465.88L1215.94,467.36M1215.94,467.36L1216.24,468.84M1216.24,468.84L1216.53,470.32M1216.53,470.32L1216.82,471.80M1216.82,471.80L1217.11,473.28M1217.11,473.28L1217.40,474.77M1217.40,474.77L1217.69,476.25M1217.69,476.25L1217.97,477.73M1217.97,477.73L1218.26,479.21M1218.26,479.21L1218.55,480.69M1218.55,480.69L1218.83,482.17M1218.83,482.17L1219.12,483.65M1219.12,483.65L1219.41,485.14M1219.41,485.14L1219.69,486.62M1219.69,486.62L1219.98,488.10M1219.98,488.10L1220.26,489.58M1220.26,489.58L1220.55,491.06M1220.55,491.06L1220.83,492.54M1220.83,492.54L1221.12,494.01M1221.12,494.01L1221.40,495.49M1221.40,495.49L1221.69,496.97M1221.69,496.97L1221.97,498.45M1221.97,498.45L1222.26,499.93M1222.26,499.93L1222.54,501.41M1222.54,501.41L1222.82,502.89M1222.82,502.89L1223.11,504.36M1223.11,504.36L1223.39,505.84M1223.39,505.84L1223.67,507.32M1223.67,507.32L1223.96,508.80M1223.96,508.80L1224.24,510.27M1224.24,510.27L1224.52,511.75M1224.52,511.75L1224.81,513.23M1224.81,513.23L1225.09,514.70M1225.09,514.70L1225.37,516.18M1225.37,516.18L1225.66,517.66M1225.66,517.66L1225.94,519.13M1225.94,519.13L1226.22,520.61M1226.22,520.61L1226.51,522.08M1226.51,522.08L1226.79,523.56M1226.79,523.56L1227.07,525.03M1227.07,525.03L1227.36,526.51M1227.36,526.51L1227.64,527.98M1227.64,527.98L1227.93,529.46M1227.93,529.46L1228.21,530.93M1228.21,530.93L1228.49,532.41M1228.49,532.41L1228.78,533.88M1228.78,533.88L1229.06,535.35M1229.06,535.35L1229.35,536.83M1229.35,536.83L1229.63,538.30M1229.63,538.30L1229.92,539.77M1229.92,539.77L1230.20,541.25M1230.20,541.25L1230.49,542.72M1230.49,542.72L1230.77,544.19M1230.77,544.19L1231.06,545.66M1231.06,545.66L1231.34,547.13M1231.34,547.13L1231.63,548.61M1231.63,548.61L1231.92,550.08M1231.92,550.08L1232.20,551.55M1232.20,551.55L1232.49,553.02M1232.49,553.02L1232.78,554.49M1232.78,554.49L1233.07,555.96M1233.07,555.96L1233.35,557.43M1233.35,557.43L1233.64,558.90M1233.64,558.90L1233.93,560.37M1233.93,560.37L1234.22,561.84M1234.22,561.84L1234.51,563.31M1234.51,563.31L1234.80,564.78M1234.80,564.78L1235.09,566.25M1235.09,566.25L1235.38,567.72M1235.38,567.72L1235.68,569.19M1235.68,569.19L1235.97,570.66M1235.97,570.66L1236.26,572.13M1236.26,572.13L1236.55,573.60M1236.55,573.60L1236.85,575.06M1236.85,575.06L1237.14,576.53M1237.14,576.53L1237.43,578.00M1237.43,578.00L1237.73,579.47M1237.73,579.47L1238.03,580.93M1238.03,580.93L1238.32,582.40M1238.32,582.40L1238.62,583.87M1238.62,583.87L1238.92,585.33M1238.92,585.33L1239.21,586.80M1239.21,586.80L1239.51,588.27M1239.51,588.27L1239.81,589.73M1239.81,589.73L1240.11,591.20M1240.11,591.20L1240.41,592.67M1240.41,592.67L1240.71,594.13M1240.71,594.13L1241.01,595.60M1241.01,595.60L1241.32,597.06M1241.32,597.06L1241.62,598.53M1241.62,598.53L1241.92,599.99M1241.92,599.99L1242.23,601.46M1242.23,601.46L1242.53,602.92M1242.53,602.92L1242.84,604.38M1242.84,604.38L1243.15,605.85M1243.15,605.85L1243.46,607.31M1243.46,607.31L1243.76,608.77M1243.76,608.77L1244.07,610.24M1244.07,610.24L1244.38,611.70M1244.38,611.70L1244.69,613.16M1244.69,613.16L1245.01,614.63M1245.01,614.63L1245.32,616.09M1245.32,616.09L1245.63,617.55M1245.63,617.55L1245.95,619.01M1245.95,619.01L1246.26,620.48M1246.26,620.48L1246.58,621.94M1246.58,621.94L1246.90,623.40M1246.90,623.40L1247.21,624.86M1247.21,624.86L1247.53,626.32M1247.53,626.32L1247.85,627.78M1247.85,627.78L1248.17,629.24M1248.17,629.24L1248.50,630.70M1248.50,630.70L1248.82,632.16M1248.82,632.16L1249.14,633.62M1249.14,633.62L1249.47,635.08M1249.47,635.08L1249.79,636.54M1249.79,636.54L1250.12,638.00M1250.12,638.00L1250.45,639.46M1250.45,639.46L1250.78,640.92M1250.78,640.92L1251.11,642.38M1251.11,642.38L1251.44,643.84M1251.44,643.84L1251.77,645.30M1251.77,645.30L1252.11,646.76M1252.11,646.76L1252.44,648.21M1252.44,648.21L1252.78,649.67M1252.78,649.67L1253.11,651.13M1253.11,651.13L1253.45,652.59M1253.45,652.59L1253.79,654.05M1253.79,654.05L1254.13,655.50M1254.13,655.50L1254.47,656.96M1254.47,656.96L1254.82,658.42M1254.82,658.42L1255.16,659.87M1255.16,659.87L1255.51,661.33M1255.51,661.33L1255.85,662.79M1255.85,662.79L1256.20,664.24M1256.20,664.24L1256.55,665.70M1256.55,665.70L1256.90,667.15M1256.90,667.15L1257.25,668.61M1257.25,668.61L1257.61,670.06M1257.61,670.06L1257.96,671.52M1257.96,671.52L1258.32,672.97M1258.32,672.97L1258.67,674.43M1258.67,674.43L1259.03,675.88M1259.03,675.88L1259.39,677.34M1259.39,677.34L1259.75,678.79M1259.75,678.79L1260.12,680.25" stroke="#3434ff" stroke-width="1.8" fill="none" stroke-linejoin="round" stroke-linecap="round"/>
</g>
<line x1="367" y1="146.5" x2="451" y2="146.5" stroke="#10b040" stroke-width="2"/>
<text style="font-family:Liberation Sans,sans-serif;font-size:43.5px;fill:#10b040;stroke:#fff;stroke-width:1.0px" transform="translate(452.38,157.50) scale(0.920,1)">3</text>
<text style="font-family:Liberation Sans,sans-serif;font-size:43.5px;fill:#10b040;stroke:#fff;stroke-width:1.0px" transform="translate(474.14,157.50) scale(0.920,1)">0</text>
<text style="font-family:Liberation Sans,sans-serif;font-size:43.5px;fill:#10b040;stroke:#fff;stroke-width:1.0px" transform="translate(496.21,157.50) scale(1.000,1)">°</text>
<text style="font-family:Liberation Sans,sans-serif;font-size:43.5px;fill:#10b040;stroke:#fff;stroke-width:1.0px" transform="translate(509.14,157.50) scale(0.840,1)">C</text>
<line x1="367" y1="202.5" x2="451" y2="202.5" stroke="#e05a14" stroke-width="2"/>
<text style="font-family:Liberation Sans,sans-serif;font-size:43.5px;fill:#e05a14;stroke:#fff;stroke-width:1.0px" transform="translate(452.27,213.50) scale(0.920,1)">6</text>
<text style="font-family:Liberation Sans,sans-serif;font-size:43.5px;fill:#e05a14;stroke:#fff;stroke-width:1.0px" transform="translate(474.14,213.50) scale(0.920,1)">0</text>
<text style="font-family:Liberation Sans,sans-serif;font-size:43.5px;fill:#e05a14;stroke:#fff;stroke-width:1.0px" transform="translate(495.41,213.50) scale(1.000,1)">°</text>
<text style="font-family:Liberation Sans,sans-serif;font-size:43.5px;fill:#e05a14;stroke:#fff;stroke-width:1.0px" transform="translate(512.54,213.50) scale(0.840,1)">C</text>
<line x1="367" y1="259.8" x2="451" y2="259.8" stroke="#f81818" stroke-width="2"/>
<text style="font-family:Liberation Sans,sans-serif;font-size:43.5px;fill:#f81818;stroke:#fff;stroke-width:1.0px" transform="translate(452.65,270.80) scale(0.920,1)">7</text>
<text style="font-family:Liberation Sans,sans-serif;font-size:43.5px;fill:#f81818;stroke:#fff;stroke-width:1.0px" transform="translate(474.14,270.80) scale(0.920,1)">0</text>
<text style="font-family:Liberation Sans,sans-serif;font-size:43.5px;fill:#f81818;stroke:#fff;stroke-width:1.0px" transform="translate(495.41,270.80) scale(1.000,1)">°</text>
<text style="font-family:Liberation Sans,sans-serif;font-size:43.5px;fill:#f81818;stroke:#fff;stroke-width:1.0px" transform="translate(512.54,270.80) scale(0.840,1)">C</text>
<line x1="367" y1="316.7" x2="451" y2="316.7" stroke="#106ec8" stroke-width="2"/>
<text style="font-family:Liberation Sans,sans-serif;font-size:43.5px;fill:#106ec8;stroke:#fff;stroke-width:1.0px" transform="translate(452.06,327.70) scale(0.920,1)">8</text>
<text style="font-family:Liberation Sans,sans-serif;font-size:43.5px;fill:#106ec8;stroke:#fff;stroke-width:1.0px" transform="translate(473.54,327.70) scale(0.920,1)">0</text>
<text style="font-family:Liberation Sans,sans-serif;font-size:43.5px;fill:#106ec8;stroke:#fff;stroke-width:1.0px" transform="translate(494.91,327.70) scale(1.000,1)">°</text>
<text style="font-family:Liberation Sans,sans-serif;font-size:43.5px;fill:#106ec8;stroke:#fff;stroke-width:1.0px" transform="translate(512.14,327.70) scale(0.840,1)">C</text>
</svg>
</body></html>
